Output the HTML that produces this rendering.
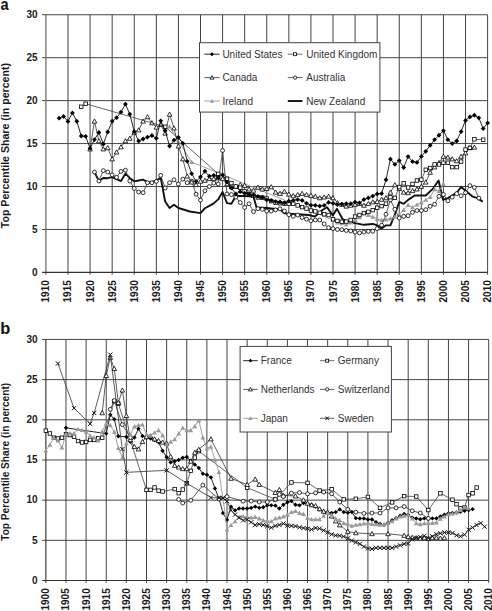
<!DOCTYPE html><html><head><meta charset="utf-8"><style>html,body{margin:0;padding:0;background:#fff}svg{display:block}</style></head><body><svg width="492" height="611" viewBox="0 0 492 611">
<rect width="492" height="611" fill="#fff"/>
<g stroke="#444" stroke-width="1.0"><line x1="67.98" y1="14.75" x2="67.98" y2="274.70"/><line x1="90.07" y1="14.75" x2="90.07" y2="274.70"/><line x1="112.16" y1="14.75" x2="112.16" y2="274.70"/><line x1="134.24" y1="14.75" x2="134.24" y2="274.70"/><line x1="156.33" y1="14.75" x2="156.33" y2="274.70"/><line x1="178.41" y1="14.75" x2="178.41" y2="274.70"/><line x1="200.50" y1="14.75" x2="200.50" y2="274.70"/><line x1="222.58" y1="14.75" x2="222.58" y2="274.70"/><line x1="244.67" y1="14.75" x2="244.67" y2="274.70"/><line x1="266.75" y1="14.75" x2="266.75" y2="274.70"/><line x1="288.84" y1="14.75" x2="288.84" y2="274.70"/><line x1="310.92" y1="14.75" x2="310.92" y2="274.70"/><line x1="333.00" y1="14.75" x2="333.00" y2="274.70"/><line x1="355.09" y1="14.75" x2="355.09" y2="274.70"/><line x1="377.17" y1="14.75" x2="377.17" y2="274.70"/><line x1="399.26" y1="14.75" x2="399.26" y2="274.70"/><line x1="421.35" y1="14.75" x2="421.35" y2="274.70"/><line x1="443.43" y1="14.75" x2="443.43" y2="274.70"/><line x1="465.52" y1="14.75" x2="465.52" y2="274.70"/><line x1="487.60" y1="14.75" x2="487.60" y2="274.70"/><line x1="42.10" y1="229.46" x2="487.60" y2="229.46"/><line x1="42.10" y1="186.52" x2="487.60" y2="186.52"/><line x1="42.10" y1="143.57" x2="487.60" y2="143.57"/><line x1="42.10" y1="100.63" x2="487.60" y2="100.63"/><line x1="42.10" y1="57.69" x2="487.60" y2="57.69"/><line x1="42.10" y1="14.75" x2="487.60" y2="14.75"/></g>
<g stroke-width="1.2"><line stroke="#666" x1="45.90" y1="14.75" x2="45.90" y2="274.70"/><line stroke="#333" x1="42.10" y1="272.40" x2="487.60" y2="272.40"/></g>
<g font-family="Liberation Sans, sans-serif" font-weight="bold" font-size="10.0" fill="#1a1a1a"><text x="37.60" y="275.70" text-anchor="end">0</text><text x="37.60" y="232.76" text-anchor="end">5</text><text x="37.60" y="189.82" text-anchor="end">10</text><text x="37.60" y="146.88" text-anchor="end">15</text><text x="37.60" y="103.93" text-anchor="end">20</text><text x="37.60" y="60.99" text-anchor="end">25</text><text x="37.60" y="18.05" text-anchor="end">30</text></g>
<g font-family="Liberation Sans, sans-serif" font-weight="bold" font-size="10.0" fill="#1a1a1a"><text transform="translate(49.40,280.20) rotate(-90)" text-anchor="end">1910</text><text transform="translate(71.48,280.20) rotate(-90)" text-anchor="end">1915</text><text transform="translate(93.57,280.20) rotate(-90)" text-anchor="end">1920</text><text transform="translate(115.66,280.20) rotate(-90)" text-anchor="end">1925</text><text transform="translate(137.74,280.20) rotate(-90)" text-anchor="end">1930</text><text transform="translate(159.83,280.20) rotate(-90)" text-anchor="end">1935</text><text transform="translate(181.91,280.20) rotate(-90)" text-anchor="end">1940</text><text transform="translate(204.00,280.20) rotate(-90)" text-anchor="end">1945</text><text transform="translate(226.08,280.20) rotate(-90)" text-anchor="end">1950</text><text transform="translate(248.17,280.20) rotate(-90)" text-anchor="end">1955</text><text transform="translate(270.25,280.20) rotate(-90)" text-anchor="end">1960</text><text transform="translate(292.34,280.20) rotate(-90)" text-anchor="end">1965</text><text transform="translate(314.42,280.20) rotate(-90)" text-anchor="end">1970</text><text transform="translate(336.50,280.20) rotate(-90)" text-anchor="end">1975</text><text transform="translate(358.59,280.20) rotate(-90)" text-anchor="end">1980</text><text transform="translate(380.67,280.20) rotate(-90)" text-anchor="end">1985</text><text transform="translate(402.76,280.20) rotate(-90)" text-anchor="end">1990</text><text transform="translate(424.85,280.20) rotate(-90)" text-anchor="end">1995</text><text transform="translate(446.93,280.20) rotate(-90)" text-anchor="end">2000</text><text transform="translate(469.02,280.20) rotate(-90)" text-anchor="end">2005</text><text transform="translate(491.10,280.20) rotate(-90)" text-anchor="end">2010</text></g>
<text transform="translate(8.90,145.60) rotate(-90)" text-anchor="middle" font-family="Liberation Sans, sans-serif" font-weight="bold" font-size="10.6" fill="#1a1a1a">Top Percentile Share (in percent)</text>
<text transform="translate(0.6,9.6) scale(0.9,1)" font-family="Liberation Sans, sans-serif" font-weight="bold" font-size="16.2" fill="#111">a</text>
<path d="M94.49 172.09 L98.90 181.02 L103.32 177.93 L107.74 178.19 L112.16 177.07 L116.57 179.22 L120.99 181.02 L125.41 173.63 L129.82 177.93 L134.24 181.36 L138.66 180.50 L143.07 179.65 L147.49 182.22 L151.91 182.22 L156.33 180.50 L160.74 177.93 L165.16 201.46 L169.58 207.99 L173.99 204.72 L178.41 207.99 L189.89 211.51 L200.50 213.14 L204.91 208.25 L209.33 205.84 L213.75 203.35 L218.16 199.40 L222.58 192.01 L227.00 203.18 L231.41 203.78 L235.83 195.96 L240.25 195.96 L244.67 195.96 L249.08 196.39 L253.50 196.82 L256.59 207.47 L266.75 208.07 L280.00 209.36 L284.42 213.40 L297.67 214.26 L308.71 215.03 L314.90 216.58 L322.85 209.71 L327.04 207.21 L332.78 215.37 L336.98 208.85 L342.50 218.98 L346.26 220.87 L355.09 223.19 L363.92 224.82 L372.76 223.96 L377.17 225.34 L381.59 228.60 L386.01 225.34 L390.43 225.34 L394.84 214.69 L399.26 201.98 L403.68 203.87 L408.09 199.83 L414.72 195.53 L425.76 195.45 L433.27 188.32 L438.57 180.42 L442.99 199.83 L447.85 198.11 L456.68 192.79 L461.10 186.95 L465.96 190.98 L472.14 196.31 L477.44 198.11 L482.74 201.63" fill="none" stroke="#111" stroke-width="1.9" stroke-linejoin="round"/>
<path d="M169.58 126.66 L191.66 162.04 L333.00 220.01 L337.42 222.59 L341.84 223.45 L346.26 224.31 L350.67 222.59 L355.09 220.01 L359.51 217.43 L363.92 213.14 L368.34 215.03 L372.76 216.83 L377.17 218.98 L381.59 220.01 L386.01 219.50 L390.43 218.47 L394.84 216.83 L399.26 214.69 L403.68 209.96 L408.09 205.15 L412.51 207.30 L416.93 204.55 L421.35 202.49 L425.76 199.83 L430.18 197.17 L434.60 189.26 L439.01 190.98 L443.43 183.94" fill="none" stroke="#999" stroke-width="0.9" stroke-linejoin="round"/><path d="M169.58 124.26L171.98 128.58L167.18 128.58Z" fill="#999" stroke="none"/><path d="M191.66 159.64L194.06 163.96L189.26 163.96Z" fill="#999" stroke="none"/><path d="M333.00 217.61L335.40 221.93L330.61 221.93Z" fill="#999" stroke="none"/><path d="M337.42 220.19L339.82 224.51L335.02 224.51Z" fill="#999" stroke="none"/><path d="M341.84 221.05L344.24 225.37L339.44 225.37Z" fill="#999" stroke="none"/><path d="M346.26 221.91L348.66 226.23L343.86 226.23Z" fill="#999" stroke="none"/><path d="M350.67 220.19L353.07 224.51L348.27 224.51Z" fill="#999" stroke="none"/><path d="M355.09 217.61L357.49 221.93L352.69 221.93Z" fill="#999" stroke="none"/><path d="M359.51 215.03L361.91 219.35L357.11 219.35Z" fill="#999" stroke="none"/><path d="M363.92 210.74L366.32 215.06L361.52 215.06Z" fill="#999" stroke="none"/><path d="M368.34 212.63L370.74 216.95L365.94 216.95Z" fill="#999" stroke="none"/><path d="M372.76 214.43L375.16 218.75L370.36 218.75Z" fill="#999" stroke="none"/><path d="M377.17 216.58L379.57 220.90L374.77 220.90Z" fill="#999" stroke="none"/><path d="M381.59 217.61L383.99 221.93L379.19 221.93Z" fill="#999" stroke="none"/><path d="M386.01 217.10L388.41 221.42L383.61 221.42Z" fill="#999" stroke="none"/><path d="M390.43 216.07L392.83 220.39L388.03 220.39Z" fill="#999" stroke="none"/><path d="M394.84 214.43L397.24 218.75L392.44 218.75Z" fill="#999" stroke="none"/><path d="M399.26 212.29L401.66 216.61L396.86 216.61Z" fill="#999" stroke="none"/><path d="M403.68 207.56L406.08 211.88L401.28 211.88Z" fill="#999" stroke="none"/><path d="M408.09 202.75L410.49 207.07L405.69 207.07Z" fill="#999" stroke="none"/><path d="M412.51 204.90L414.91 209.22L410.11 209.22Z" fill="#999" stroke="none"/><path d="M416.93 202.15L419.33 206.47L414.53 206.47Z" fill="#999" stroke="none"/><path d="M421.35 200.09L423.75 204.41L418.95 204.41Z" fill="#999" stroke="none"/><path d="M425.76 197.43L428.16 201.75L423.36 201.75Z" fill="#999" stroke="none"/><path d="M430.18 194.77L432.58 199.09L427.78 199.09Z" fill="#999" stroke="none"/><path d="M434.60 186.86L437.00 191.18L432.20 191.18Z" fill="#999" stroke="none"/><path d="M439.01 188.58L441.41 192.90L436.61 192.90Z" fill="#999" stroke="none"/><path d="M443.43 181.54L445.83 185.86L441.03 185.86Z" fill="#999" stroke="none"/>
<path d="M94.49 172.09 L98.90 181.02 L103.32 170.63 L107.74 172.09 L112.16 174.92 L116.57 177.33 L120.99 171.40 L125.41 170.20 L129.82 181.02 L134.24 188.41 L138.66 192.01 L143.07 192.70 L147.49 182.74 L151.91 182.74 L156.33 181.36 L160.74 175.44 L165.16 187.98 L169.58 182.74 L173.99 179.82 L178.41 184.03 L182.83 179.13 L187.24 182.74 L191.66 181.11 L196.08 194.16 L200.50 200.09 L204.91 190.81 L209.33 186.52 L213.75 183.08 L218.16 183.94 L222.58 150.53 L227.00 193.99 L231.41 194.59 L235.83 197.08 L240.25 202.58 L244.67 207.47 L249.08 203.78 L253.50 211.68 L257.92 208.67 L262.33 209.28 L266.75 211.08 L271.17 211.08 L275.58 209.88 L280.00 208.85 L284.42 210.99 L288.84 214.69 L293.25 216.32 L297.67 215.03 L302.09 217.52 L306.50 219.15 L310.92 220.78 L315.34 220.01 L319.75 220.01 L324.17 223.96 L328.59 227.74 L333.00 228.60 L337.42 229.46 L341.84 229.72 L346.26 230.49 L350.67 231.00 L355.09 232.12 L359.51 232.89 L363.92 232.12 L368.34 231.35 L372.76 231.18 L377.17 228.60 L381.59 225.16 L386.01 214.26 L390.43 199.91 L394.84 209.28 L399.26 217.95 L403.68 216.32 L408.09 215.72 L412.51 212.28 L416.93 210.56 L421.35 210.56 L425.76 209.71 L430.18 206.27 L434.60 204.29 L439.01 196.31 L443.43 194.50 L447.85 200.77 L452.26 197.17 L456.68 193.64 L461.10 195.79 L465.52 192.79 L469.93 185.66 L474.35 187.46 L478.77 198.11" fill="none" stroke="#333" stroke-width="0.8" stroke-linejoin="round"/><circle cx="94.49" cy="172.09" r="1.95" fill="#fff" stroke="#000" stroke-width="0.8"/><circle cx="98.90" cy="181.02" r="1.95" fill="#fff" stroke="#000" stroke-width="0.8"/><circle cx="103.32" cy="170.63" r="1.95" fill="#fff" stroke="#000" stroke-width="0.8"/><circle cx="107.74" cy="172.09" r="1.95" fill="#fff" stroke="#000" stroke-width="0.8"/><circle cx="112.16" cy="174.92" r="1.95" fill="#fff" stroke="#000" stroke-width="0.8"/><circle cx="116.57" cy="177.33" r="1.95" fill="#fff" stroke="#000" stroke-width="0.8"/><circle cx="120.99" cy="171.40" r="1.95" fill="#fff" stroke="#000" stroke-width="0.8"/><circle cx="125.41" cy="170.20" r="1.95" fill="#fff" stroke="#000" stroke-width="0.8"/><circle cx="129.82" cy="181.02" r="1.95" fill="#fff" stroke="#000" stroke-width="0.8"/><circle cx="134.24" cy="188.41" r="1.95" fill="#fff" stroke="#000" stroke-width="0.8"/><circle cx="138.66" cy="192.01" r="1.95" fill="#fff" stroke="#000" stroke-width="0.8"/><circle cx="143.07" cy="192.70" r="1.95" fill="#fff" stroke="#000" stroke-width="0.8"/><circle cx="147.49" cy="182.74" r="1.95" fill="#fff" stroke="#000" stroke-width="0.8"/><circle cx="151.91" cy="182.74" r="1.95" fill="#fff" stroke="#000" stroke-width="0.8"/><circle cx="156.33" cy="181.36" r="1.95" fill="#fff" stroke="#000" stroke-width="0.8"/><circle cx="160.74" cy="175.44" r="1.95" fill="#fff" stroke="#000" stroke-width="0.8"/><circle cx="165.16" cy="187.98" r="1.95" fill="#fff" stroke="#000" stroke-width="0.8"/><circle cx="169.58" cy="182.74" r="1.95" fill="#fff" stroke="#000" stroke-width="0.8"/><circle cx="173.99" cy="179.82" r="1.95" fill="#fff" stroke="#000" stroke-width="0.8"/><circle cx="178.41" cy="184.03" r="1.95" fill="#fff" stroke="#000" stroke-width="0.8"/><circle cx="182.83" cy="179.13" r="1.95" fill="#fff" stroke="#000" stroke-width="0.8"/><circle cx="187.24" cy="182.74" r="1.95" fill="#fff" stroke="#000" stroke-width="0.8"/><circle cx="191.66" cy="181.11" r="1.95" fill="#fff" stroke="#000" stroke-width="0.8"/><circle cx="196.08" cy="194.16" r="1.95" fill="#fff" stroke="#000" stroke-width="0.8"/><circle cx="200.50" cy="200.09" r="1.95" fill="#fff" stroke="#000" stroke-width="0.8"/><circle cx="204.91" cy="190.81" r="1.95" fill="#fff" stroke="#000" stroke-width="0.8"/><circle cx="209.33" cy="186.52" r="1.95" fill="#fff" stroke="#000" stroke-width="0.8"/><circle cx="213.75" cy="183.08" r="1.95" fill="#fff" stroke="#000" stroke-width="0.8"/><circle cx="218.16" cy="183.94" r="1.95" fill="#fff" stroke="#000" stroke-width="0.8"/><circle cx="222.58" cy="150.53" r="1.95" fill="#fff" stroke="#000" stroke-width="0.8"/><circle cx="227.00" cy="193.99" r="1.95" fill="#fff" stroke="#000" stroke-width="0.8"/><circle cx="231.41" cy="194.59" r="1.95" fill="#fff" stroke="#000" stroke-width="0.8"/><circle cx="235.83" cy="197.08" r="1.95" fill="#fff" stroke="#000" stroke-width="0.8"/><circle cx="240.25" cy="202.58" r="1.95" fill="#fff" stroke="#000" stroke-width="0.8"/><circle cx="244.67" cy="207.47" r="1.95" fill="#fff" stroke="#000" stroke-width="0.8"/><circle cx="249.08" cy="203.78" r="1.95" fill="#fff" stroke="#000" stroke-width="0.8"/><circle cx="253.50" cy="211.68" r="1.95" fill="#fff" stroke="#000" stroke-width="0.8"/><circle cx="257.92" cy="208.67" r="1.95" fill="#fff" stroke="#000" stroke-width="0.8"/><circle cx="262.33" cy="209.28" r="1.95" fill="#fff" stroke="#000" stroke-width="0.8"/><circle cx="266.75" cy="211.08" r="1.95" fill="#fff" stroke="#000" stroke-width="0.8"/><circle cx="271.17" cy="211.08" r="1.95" fill="#fff" stroke="#000" stroke-width="0.8"/><circle cx="275.58" cy="209.88" r="1.95" fill="#fff" stroke="#000" stroke-width="0.8"/><circle cx="280.00" cy="208.85" r="1.95" fill="#fff" stroke="#000" stroke-width="0.8"/><circle cx="284.42" cy="210.99" r="1.95" fill="#fff" stroke="#000" stroke-width="0.8"/><circle cx="288.84" cy="214.69" r="1.95" fill="#fff" stroke="#000" stroke-width="0.8"/><circle cx="293.25" cy="216.32" r="1.95" fill="#fff" stroke="#000" stroke-width="0.8"/><circle cx="297.67" cy="215.03" r="1.95" fill="#fff" stroke="#000" stroke-width="0.8"/><circle cx="302.09" cy="217.52" r="1.95" fill="#fff" stroke="#000" stroke-width="0.8"/><circle cx="306.50" cy="219.15" r="1.95" fill="#fff" stroke="#000" stroke-width="0.8"/><circle cx="310.92" cy="220.78" r="1.95" fill="#fff" stroke="#000" stroke-width="0.8"/><circle cx="315.34" cy="220.01" r="1.95" fill="#fff" stroke="#000" stroke-width="0.8"/><circle cx="319.75" cy="220.01" r="1.95" fill="#fff" stroke="#000" stroke-width="0.8"/><circle cx="324.17" cy="223.96" r="1.95" fill="#fff" stroke="#000" stroke-width="0.8"/><circle cx="328.59" cy="227.74" r="1.95" fill="#fff" stroke="#000" stroke-width="0.8"/><circle cx="333.00" cy="228.60" r="1.95" fill="#fff" stroke="#000" stroke-width="0.8"/><circle cx="337.42" cy="229.46" r="1.95" fill="#fff" stroke="#000" stroke-width="0.8"/><circle cx="341.84" cy="229.72" r="1.95" fill="#fff" stroke="#000" stroke-width="0.8"/><circle cx="346.26" cy="230.49" r="1.95" fill="#fff" stroke="#000" stroke-width="0.8"/><circle cx="350.67" cy="231.00" r="1.95" fill="#fff" stroke="#000" stroke-width="0.8"/><circle cx="355.09" cy="232.12" r="1.95" fill="#fff" stroke="#000" stroke-width="0.8"/><circle cx="359.51" cy="232.89" r="1.95" fill="#fff" stroke="#000" stroke-width="0.8"/><circle cx="363.92" cy="232.12" r="1.95" fill="#fff" stroke="#000" stroke-width="0.8"/><circle cx="368.34" cy="231.35" r="1.95" fill="#fff" stroke="#000" stroke-width="0.8"/><circle cx="372.76" cy="231.18" r="1.95" fill="#fff" stroke="#000" stroke-width="0.8"/><circle cx="377.17" cy="228.60" r="1.95" fill="#fff" stroke="#000" stroke-width="0.8"/><circle cx="381.59" cy="225.16" r="1.95" fill="#fff" stroke="#000" stroke-width="0.8"/><circle cx="386.01" cy="214.26" r="1.95" fill="#fff" stroke="#000" stroke-width="0.8"/><circle cx="390.43" cy="199.91" r="1.95" fill="#fff" stroke="#000" stroke-width="0.8"/><circle cx="394.84" cy="209.28" r="1.95" fill="#fff" stroke="#000" stroke-width="0.8"/><circle cx="399.26" cy="217.95" r="1.95" fill="#fff" stroke="#000" stroke-width="0.8"/><circle cx="403.68" cy="216.32" r="1.95" fill="#fff" stroke="#000" stroke-width="0.8"/><circle cx="408.09" cy="215.72" r="1.95" fill="#fff" stroke="#000" stroke-width="0.8"/><circle cx="412.51" cy="212.28" r="1.95" fill="#fff" stroke="#000" stroke-width="0.8"/><circle cx="416.93" cy="210.56" r="1.95" fill="#fff" stroke="#000" stroke-width="0.8"/><circle cx="421.35" cy="210.56" r="1.95" fill="#fff" stroke="#000" stroke-width="0.8"/><circle cx="425.76" cy="209.71" r="1.95" fill="#fff" stroke="#000" stroke-width="0.8"/><circle cx="430.18" cy="206.27" r="1.95" fill="#fff" stroke="#000" stroke-width="0.8"/><circle cx="434.60" cy="204.29" r="1.95" fill="#fff" stroke="#000" stroke-width="0.8"/><circle cx="439.01" cy="196.31" r="1.95" fill="#fff" stroke="#000" stroke-width="0.8"/><circle cx="443.43" cy="194.50" r="1.95" fill="#fff" stroke="#000" stroke-width="0.8"/><circle cx="447.85" cy="200.77" r="1.95" fill="#fff" stroke="#000" stroke-width="0.8"/><circle cx="452.26" cy="197.17" r="1.95" fill="#fff" stroke="#000" stroke-width="0.8"/><circle cx="456.68" cy="193.64" r="1.95" fill="#fff" stroke="#000" stroke-width="0.8"/><circle cx="461.10" cy="195.79" r="1.95" fill="#fff" stroke="#000" stroke-width="0.8"/><circle cx="465.52" cy="192.79" r="1.95" fill="#fff" stroke="#000" stroke-width="0.8"/><circle cx="469.93" cy="185.66" r="1.95" fill="#fff" stroke="#000" stroke-width="0.8"/><circle cx="474.35" cy="187.46" r="1.95" fill="#fff" stroke="#000" stroke-width="0.8"/><circle cx="478.77" cy="198.11" r="1.95" fill="#fff" stroke="#000" stroke-width="0.8"/>
<path d="M90.07 149.07 L94.49 121.25 L98.90 141.00 L103.32 149.07 L107.74 147.87 L112.16 159.03 L116.57 152.16 L120.99 147.01 L125.41 141.00 L129.82 138.42 L134.24 132.41 L138.66 130.09 L143.07 121.25 L147.49 116.95 L151.91 122.96 L156.33 127.26 L160.74 124.68 L165.16 133.27 L169.58 114.37 L173.99 128.12 L178.41 146.15 L182.83 159.03 L187.24 176.21 L191.66 182.22 L196.08 184.80 L200.50 181.36 L204.91 180.50 L209.33 178.79 L213.75 178.79 L218.16 177.93 L222.58 178.79 L227.00 183.94 L231.41 186.52 L235.83 186.52 L240.25 184.80 L244.67 185.49 L249.08 189.18 L253.50 190.38 L257.92 187.38 L262.33 189.18 L266.75 188.66 L271.17 186.95 L275.58 192.27 L280.00 193.56 L284.42 191.50 L288.84 194.25 L293.25 195.88 L297.67 194.76 L302.09 193.56 L306.50 194.76 L310.92 195.53 L315.34 196.39 L319.75 197.94 L324.17 197.17 L328.59 196.39 L333.00 197.94 L337.42 202.83 L341.84 204.55 L346.26 206.27 L350.67 205.41 L355.09 204.55 L359.51 203.69 L363.92 205.41 L368.34 203.69 L372.76 202.06 L377.17 201.55 L381.59 199.40 L386.01 197.94 L390.43 192.36 L394.84 184.88 L399.26 188.66 L403.68 192.36 L408.09 192.87 L412.51 190.81 L416.93 189.18 L421.35 186.52 L425.76 182.22 L430.18 172.43 L434.60 167.11 L439.01 162.73 L443.43 156.46 L447.85 157.32 L452.26 159.03 L456.68 160.92 L461.10 156.46 L465.52 153.02 L469.93 147.87 L474.35 147.35" fill="none" stroke="#333" stroke-width="0.8" stroke-linejoin="round"/><path d="M90.07 146.77L92.37 150.91L87.77 150.91Z" fill="#fff" stroke="#000" stroke-width="0.8"/><path d="M94.49 118.95L96.79 123.09L92.19 123.09Z" fill="#fff" stroke="#000" stroke-width="0.8"/><path d="M98.90 138.70L101.20 142.84L96.60 142.84Z" fill="#fff" stroke="#000" stroke-width="0.8"/><path d="M103.32 146.77L105.62 150.91L101.02 150.91Z" fill="#fff" stroke="#000" stroke-width="0.8"/><path d="M107.74 145.57L110.04 149.71L105.44 149.71Z" fill="#fff" stroke="#000" stroke-width="0.8"/><path d="M112.16 156.73L114.45 160.87L109.86 160.87Z" fill="#fff" stroke="#000" stroke-width="0.8"/><path d="M116.57 149.86L118.87 154.00L114.27 154.00Z" fill="#fff" stroke="#000" stroke-width="0.8"/><path d="M120.99 144.71L123.29 148.85L118.69 148.85Z" fill="#fff" stroke="#000" stroke-width="0.8"/><path d="M125.41 138.70L127.71 142.84L123.11 142.84Z" fill="#fff" stroke="#000" stroke-width="0.8"/><path d="M129.82 136.12L132.12 140.26L127.52 140.26Z" fill="#fff" stroke="#000" stroke-width="0.8"/><path d="M134.24 130.11L136.54 134.25L131.94 134.25Z" fill="#fff" stroke="#000" stroke-width="0.8"/><path d="M138.66 127.79L140.96 131.93L136.36 131.93Z" fill="#fff" stroke="#000" stroke-width="0.8"/><path d="M143.07 118.95L145.37 123.09L140.77 123.09Z" fill="#fff" stroke="#000" stroke-width="0.8"/><path d="M147.49 114.65L149.79 118.79L145.19 118.79Z" fill="#fff" stroke="#000" stroke-width="0.8"/><path d="M151.91 120.66L154.21 124.80L149.61 124.80Z" fill="#fff" stroke="#000" stroke-width="0.8"/><path d="M156.33 124.96L158.63 129.10L154.03 129.10Z" fill="#fff" stroke="#000" stroke-width="0.8"/><path d="M160.74 122.38L163.04 126.52L158.44 126.52Z" fill="#fff" stroke="#000" stroke-width="0.8"/><path d="M165.16 130.97L167.46 135.11L162.86 135.11Z" fill="#fff" stroke="#000" stroke-width="0.8"/><path d="M169.58 112.07L171.88 116.21L167.28 116.21Z" fill="#fff" stroke="#000" stroke-width="0.8"/><path d="M173.99 125.82L176.29 129.96L171.69 129.96Z" fill="#fff" stroke="#000" stroke-width="0.8"/><path d="M178.41 143.85L180.71 147.99L176.11 147.99Z" fill="#fff" stroke="#000" stroke-width="0.8"/><path d="M182.83 156.73L185.13 160.87L180.53 160.87Z" fill="#fff" stroke="#000" stroke-width="0.8"/><path d="M187.24 173.91L189.54 178.05L184.94 178.05Z" fill="#fff" stroke="#000" stroke-width="0.8"/><path d="M191.66 179.92L193.96 184.06L189.36 184.06Z" fill="#fff" stroke="#000" stroke-width="0.8"/><path d="M196.08 182.50L198.38 186.64L193.78 186.64Z" fill="#fff" stroke="#000" stroke-width="0.8"/><path d="M200.50 179.06L202.80 183.20L198.20 183.20Z" fill="#fff" stroke="#000" stroke-width="0.8"/><path d="M204.91 178.20L207.21 182.34L202.61 182.34Z" fill="#fff" stroke="#000" stroke-width="0.8"/><path d="M209.33 176.49L211.63 180.63L207.03 180.63Z" fill="#fff" stroke="#000" stroke-width="0.8"/><path d="M213.75 176.49L216.05 180.63L211.45 180.63Z" fill="#fff" stroke="#000" stroke-width="0.8"/><path d="M218.16 175.63L220.46 179.77L215.86 179.77Z" fill="#fff" stroke="#000" stroke-width="0.8"/><path d="M222.58 176.49L224.88 180.63L220.28 180.63Z" fill="#fff" stroke="#000" stroke-width="0.8"/><path d="M227.00 181.64L229.30 185.78L224.70 185.78Z" fill="#fff" stroke="#000" stroke-width="0.8"/><path d="M231.41 184.22L233.71 188.36L229.11 188.36Z" fill="#fff" stroke="#000" stroke-width="0.8"/><path d="M235.83 184.22L238.13 188.36L233.53 188.36Z" fill="#fff" stroke="#000" stroke-width="0.8"/><path d="M240.25 182.50L242.55 186.64L237.95 186.64Z" fill="#fff" stroke="#000" stroke-width="0.8"/><path d="M244.67 183.19L246.97 187.33L242.37 187.33Z" fill="#fff" stroke="#000" stroke-width="0.8"/><path d="M249.08 186.88L251.38 191.02L246.78 191.02Z" fill="#fff" stroke="#000" stroke-width="0.8"/><path d="M253.50 188.08L255.80 192.22L251.20 192.22Z" fill="#fff" stroke="#000" stroke-width="0.8"/><path d="M257.92 185.08L260.22 189.22L255.62 189.22Z" fill="#fff" stroke="#000" stroke-width="0.8"/><path d="M262.33 186.88L264.63 191.02L260.03 191.02Z" fill="#fff" stroke="#000" stroke-width="0.8"/><path d="M266.75 186.36L269.05 190.50L264.45 190.50Z" fill="#fff" stroke="#000" stroke-width="0.8"/><path d="M271.17 184.65L273.47 188.79L268.87 188.79Z" fill="#fff" stroke="#000" stroke-width="0.8"/><path d="M275.58 189.97L277.88 194.11L273.28 194.11Z" fill="#fff" stroke="#000" stroke-width="0.8"/><path d="M280.00 191.26L282.30 195.40L277.70 195.40Z" fill="#fff" stroke="#000" stroke-width="0.8"/><path d="M284.42 189.20L286.72 193.34L282.12 193.34Z" fill="#fff" stroke="#000" stroke-width="0.8"/><path d="M288.84 191.95L291.14 196.09L286.54 196.09Z" fill="#fff" stroke="#000" stroke-width="0.8"/><path d="M293.25 193.58L295.55 197.72L290.95 197.72Z" fill="#fff" stroke="#000" stroke-width="0.8"/><path d="M297.67 192.46L299.97 196.60L295.37 196.60Z" fill="#fff" stroke="#000" stroke-width="0.8"/><path d="M302.09 191.26L304.39 195.40L299.79 195.40Z" fill="#fff" stroke="#000" stroke-width="0.8"/><path d="M306.50 192.46L308.80 196.60L304.20 196.60Z" fill="#fff" stroke="#000" stroke-width="0.8"/><path d="M310.92 193.23L313.22 197.37L308.62 197.37Z" fill="#fff" stroke="#000" stroke-width="0.8"/><path d="M315.34 194.09L317.64 198.23L313.04 198.23Z" fill="#fff" stroke="#000" stroke-width="0.8"/><path d="M319.75 195.64L322.05 199.78L317.45 199.78Z" fill="#fff" stroke="#000" stroke-width="0.8"/><path d="M324.17 194.87L326.47 199.01L321.87 199.01Z" fill="#fff" stroke="#000" stroke-width="0.8"/><path d="M328.59 194.09L330.89 198.23L326.29 198.23Z" fill="#fff" stroke="#000" stroke-width="0.8"/><path d="M333.00 195.64L335.31 199.78L330.70 199.78Z" fill="#fff" stroke="#000" stroke-width="0.8"/><path d="M337.42 200.53L339.72 204.67L335.12 204.67Z" fill="#fff" stroke="#000" stroke-width="0.8"/><path d="M341.84 202.25L344.14 206.39L339.54 206.39Z" fill="#fff" stroke="#000" stroke-width="0.8"/><path d="M346.26 203.97L348.56 208.11L343.96 208.11Z" fill="#fff" stroke="#000" stroke-width="0.8"/><path d="M350.67 203.11L352.97 207.25L348.37 207.25Z" fill="#fff" stroke="#000" stroke-width="0.8"/><path d="M355.09 202.25L357.39 206.39L352.79 206.39Z" fill="#fff" stroke="#000" stroke-width="0.8"/><path d="M359.51 201.39L361.81 205.53L357.21 205.53Z" fill="#fff" stroke="#000" stroke-width="0.8"/><path d="M363.92 203.11L366.22 207.25L361.62 207.25Z" fill="#fff" stroke="#000" stroke-width="0.8"/><path d="M368.34 201.39L370.64 205.53L366.04 205.53Z" fill="#fff" stroke="#000" stroke-width="0.8"/><path d="M372.76 199.76L375.06 203.90L370.46 203.90Z" fill="#fff" stroke="#000" stroke-width="0.8"/><path d="M377.17 199.25L379.47 203.39L374.87 203.39Z" fill="#fff" stroke="#000" stroke-width="0.8"/><path d="M381.59 197.10L383.89 201.24L379.29 201.24Z" fill="#fff" stroke="#000" stroke-width="0.8"/><path d="M386.01 195.64L388.31 199.78L383.71 199.78Z" fill="#fff" stroke="#000" stroke-width="0.8"/><path d="M390.43 190.06L392.73 194.20L388.13 194.20Z" fill="#fff" stroke="#000" stroke-width="0.8"/><path d="M394.84 182.58L397.14 186.72L392.54 186.72Z" fill="#fff" stroke="#000" stroke-width="0.8"/><path d="M399.26 186.36L401.56 190.50L396.96 190.50Z" fill="#fff" stroke="#000" stroke-width="0.8"/><path d="M403.68 190.06L405.98 194.20L401.38 194.20Z" fill="#fff" stroke="#000" stroke-width="0.8"/><path d="M408.09 190.57L410.39 194.71L405.79 194.71Z" fill="#fff" stroke="#000" stroke-width="0.8"/><path d="M412.51 188.51L414.81 192.65L410.21 192.65Z" fill="#fff" stroke="#000" stroke-width="0.8"/><path d="M416.93 186.88L419.23 191.02L414.63 191.02Z" fill="#fff" stroke="#000" stroke-width="0.8"/><path d="M421.35 184.22L423.65 188.36L419.05 188.36Z" fill="#fff" stroke="#000" stroke-width="0.8"/><path d="M425.76 179.92L428.06 184.06L423.46 184.06Z" fill="#fff" stroke="#000" stroke-width="0.8"/><path d="M430.18 170.13L432.48 174.27L427.88 174.27Z" fill="#fff" stroke="#000" stroke-width="0.8"/><path d="M434.60 164.81L436.90 168.95L432.30 168.95Z" fill="#fff" stroke="#000" stroke-width="0.8"/><path d="M439.01 160.43L441.31 164.57L436.71 164.57Z" fill="#fff" stroke="#000" stroke-width="0.8"/><path d="M443.43 154.16L445.73 158.30L441.13 158.30Z" fill="#fff" stroke="#000" stroke-width="0.8"/><path d="M447.85 155.02L450.15 159.16L445.55 159.16Z" fill="#fff" stroke="#000" stroke-width="0.8"/><path d="M452.26 156.73L454.56 160.87L449.96 160.87Z" fill="#fff" stroke="#000" stroke-width="0.8"/><path d="M456.68 158.62L458.98 162.76L454.38 162.76Z" fill="#fff" stroke="#000" stroke-width="0.8"/><path d="M461.10 154.16L463.40 158.30L458.80 158.30Z" fill="#fff" stroke="#000" stroke-width="0.8"/><path d="M465.52 150.72L467.82 154.86L463.22 154.86Z" fill="#fff" stroke="#000" stroke-width="0.8"/><path d="M469.93 145.57L472.23 149.71L467.63 149.71Z" fill="#fff" stroke="#000" stroke-width="0.8"/><path d="M474.35 145.05L476.65 149.19L472.05 149.19Z" fill="#fff" stroke="#000" stroke-width="0.8"/>
<path d="M81.24 106.82 L85.65 103.73 L165.16 126.74 L218.16 173.89 L227.00 178.79 L231.41 183.08 L235.83 186.52 L240.25 187.72 L244.67 191.41 L249.08 194.16 L253.50 195.62 L257.92 197.42 L262.33 197.60 L266.75 198.54 L271.17 201.12 L275.58 202.83 L280.00 203.26 L284.42 203.69 L288.84 203.69 L293.25 203.69 L297.67 205.41 L302.09 207.13 L306.50 208.59 L310.92 210.56 L315.34 211.42 L319.75 212.71 L324.17 214.26 L328.59 215.03 L333.00 219.15 L337.42 220.87 L341.84 221.73 L346.26 221.56 L350.67 220.01 L355.09 216.58 L359.51 215.03 L363.92 213.14 L368.34 211.85 L372.76 210.13 L377.17 207.73 L381.59 206.10 L386.01 203.69 L390.43 197.17 L394.84 197.85 L399.26 187.03 L403.68 183.34 L408.09 187.55 L412.51 183.94 L416.93 180.50 L421.35 179.65 L425.76 169.77 L430.18 168.05 L434.60 164.44 L439.01 164.44 L443.43 162.73 L447.85 162.73 L452.26 167.11 L456.68 167.11 L461.10 161.61 L465.52 149.59 L469.93 147.87 L474.35 139.28 L483.18 139.71" fill="none" stroke="#444" stroke-width="0.8" stroke-linejoin="round"/><rect x="79.49" y="105.07" width="3.50" height="3.50" fill="#fff" stroke="#000" stroke-width="0.8"/><rect x="83.90" y="101.98" width="3.50" height="3.50" fill="#fff" stroke="#000" stroke-width="0.8"/><rect x="163.41" y="124.99" width="3.50" height="3.50" fill="#fff" stroke="#000" stroke-width="0.8"/><rect x="216.41" y="172.14" width="3.50" height="3.50" fill="#fff" stroke="#000" stroke-width="0.8"/><rect x="225.25" y="177.04" width="3.50" height="3.50" fill="#fff" stroke="#000" stroke-width="0.8"/><rect x="229.66" y="181.33" width="3.50" height="3.50" fill="#fff" stroke="#000" stroke-width="0.8"/><rect x="234.08" y="184.77" width="3.50" height="3.50" fill="#fff" stroke="#000" stroke-width="0.8"/><rect x="238.50" y="185.97" width="3.50" height="3.50" fill="#fff" stroke="#000" stroke-width="0.8"/><rect x="242.92" y="189.66" width="3.50" height="3.50" fill="#fff" stroke="#000" stroke-width="0.8"/><rect x="247.33" y="192.41" width="3.50" height="3.50" fill="#fff" stroke="#000" stroke-width="0.8"/><rect x="251.75" y="193.87" width="3.50" height="3.50" fill="#fff" stroke="#000" stroke-width="0.8"/><rect x="256.17" y="195.67" width="3.50" height="3.50" fill="#fff" stroke="#000" stroke-width="0.8"/><rect x="260.58" y="195.85" width="3.50" height="3.50" fill="#fff" stroke="#000" stroke-width="0.8"/><rect x="265.00" y="196.79" width="3.50" height="3.50" fill="#fff" stroke="#000" stroke-width="0.8"/><rect x="269.42" y="199.37" width="3.50" height="3.50" fill="#fff" stroke="#000" stroke-width="0.8"/><rect x="273.83" y="201.08" width="3.50" height="3.50" fill="#fff" stroke="#000" stroke-width="0.8"/><rect x="278.25" y="201.51" width="3.50" height="3.50" fill="#fff" stroke="#000" stroke-width="0.8"/><rect x="282.67" y="201.94" width="3.50" height="3.50" fill="#fff" stroke="#000" stroke-width="0.8"/><rect x="287.09" y="201.94" width="3.50" height="3.50" fill="#fff" stroke="#000" stroke-width="0.8"/><rect x="291.50" y="201.94" width="3.50" height="3.50" fill="#fff" stroke="#000" stroke-width="0.8"/><rect x="295.92" y="203.66" width="3.50" height="3.50" fill="#fff" stroke="#000" stroke-width="0.8"/><rect x="300.34" y="205.38" width="3.50" height="3.50" fill="#fff" stroke="#000" stroke-width="0.8"/><rect x="304.75" y="206.84" width="3.50" height="3.50" fill="#fff" stroke="#000" stroke-width="0.8"/><rect x="309.17" y="208.81" width="3.50" height="3.50" fill="#fff" stroke="#000" stroke-width="0.8"/><rect x="313.59" y="209.67" width="3.50" height="3.50" fill="#fff" stroke="#000" stroke-width="0.8"/><rect x="318.00" y="210.96" width="3.50" height="3.50" fill="#fff" stroke="#000" stroke-width="0.8"/><rect x="322.42" y="212.51" width="3.50" height="3.50" fill="#fff" stroke="#000" stroke-width="0.8"/><rect x="326.84" y="213.28" width="3.50" height="3.50" fill="#fff" stroke="#000" stroke-width="0.8"/><rect x="331.25" y="217.40" width="3.50" height="3.50" fill="#fff" stroke="#000" stroke-width="0.8"/><rect x="335.67" y="219.12" width="3.50" height="3.50" fill="#fff" stroke="#000" stroke-width="0.8"/><rect x="340.09" y="219.98" width="3.50" height="3.50" fill="#fff" stroke="#000" stroke-width="0.8"/><rect x="344.51" y="219.81" width="3.50" height="3.50" fill="#fff" stroke="#000" stroke-width="0.8"/><rect x="348.92" y="218.26" width="3.50" height="3.50" fill="#fff" stroke="#000" stroke-width="0.8"/><rect x="353.34" y="214.83" width="3.50" height="3.50" fill="#fff" stroke="#000" stroke-width="0.8"/><rect x="357.76" y="213.28" width="3.50" height="3.50" fill="#fff" stroke="#000" stroke-width="0.8"/><rect x="362.17" y="211.39" width="3.50" height="3.50" fill="#fff" stroke="#000" stroke-width="0.8"/><rect x="366.59" y="210.10" width="3.50" height="3.50" fill="#fff" stroke="#000" stroke-width="0.8"/><rect x="371.01" y="208.38" width="3.50" height="3.50" fill="#fff" stroke="#000" stroke-width="0.8"/><rect x="375.42" y="205.98" width="3.50" height="3.50" fill="#fff" stroke="#000" stroke-width="0.8"/><rect x="379.84" y="204.35" width="3.50" height="3.50" fill="#fff" stroke="#000" stroke-width="0.8"/><rect x="384.26" y="201.94" width="3.50" height="3.50" fill="#fff" stroke="#000" stroke-width="0.8"/><rect x="388.68" y="195.42" width="3.50" height="3.50" fill="#fff" stroke="#000" stroke-width="0.8"/><rect x="393.09" y="196.10" width="3.50" height="3.50" fill="#fff" stroke="#000" stroke-width="0.8"/><rect x="397.51" y="185.28" width="3.50" height="3.50" fill="#fff" stroke="#000" stroke-width="0.8"/><rect x="401.93" y="181.59" width="3.50" height="3.50" fill="#fff" stroke="#000" stroke-width="0.8"/><rect x="406.34" y="185.80" width="3.50" height="3.50" fill="#fff" stroke="#000" stroke-width="0.8"/><rect x="410.76" y="182.19" width="3.50" height="3.50" fill="#fff" stroke="#000" stroke-width="0.8"/><rect x="415.18" y="178.75" width="3.50" height="3.50" fill="#fff" stroke="#000" stroke-width="0.8"/><rect x="419.60" y="177.90" width="3.50" height="3.50" fill="#fff" stroke="#000" stroke-width="0.8"/><rect x="424.01" y="168.02" width="3.50" height="3.50" fill="#fff" stroke="#000" stroke-width="0.8"/><rect x="428.43" y="166.30" width="3.50" height="3.50" fill="#fff" stroke="#000" stroke-width="0.8"/><rect x="432.85" y="162.69" width="3.50" height="3.50" fill="#fff" stroke="#000" stroke-width="0.8"/><rect x="437.26" y="162.69" width="3.50" height="3.50" fill="#fff" stroke="#000" stroke-width="0.8"/><rect x="441.68" y="160.98" width="3.50" height="3.50" fill="#fff" stroke="#000" stroke-width="0.8"/><rect x="446.10" y="160.98" width="3.50" height="3.50" fill="#fff" stroke="#000" stroke-width="0.8"/><rect x="450.51" y="165.36" width="3.50" height="3.50" fill="#fff" stroke="#000" stroke-width="0.8"/><rect x="454.93" y="165.36" width="3.50" height="3.50" fill="#fff" stroke="#000" stroke-width="0.8"/><rect x="459.35" y="159.86" width="3.50" height="3.50" fill="#fff" stroke="#000" stroke-width="0.8"/><rect x="463.77" y="147.84" width="3.50" height="3.50" fill="#fff" stroke="#000" stroke-width="0.8"/><rect x="468.18" y="146.12" width="3.50" height="3.50" fill="#fff" stroke="#000" stroke-width="0.8"/><rect x="472.60" y="137.53" width="3.50" height="3.50" fill="#fff" stroke="#000" stroke-width="0.8"/><rect x="481.43" y="137.96" width="3.50" height="3.50" fill="#fff" stroke="#000" stroke-width="0.8"/>
<path d="M59.15 118.15 L63.57 116.44 L67.98 121.42 L72.40 112.91 L76.82 121.25 L81.24 136.02 L85.65 136.36 L90.07 148.21 L94.49 139.54 L98.90 132.50 L103.32 144.00 L107.74 131.98 L112.16 121.25 L116.57 117.72 L120.99 112.06 L125.41 104.07 L129.82 114.20 L134.24 131.55 L138.66 141.00 L143.07 139.02 L147.49 137.13 L151.91 135.50 L156.33 138.25 L160.74 120.82 L165.16 130.69 L169.58 146.07 L173.99 140.14 L178.41 137.31 L182.83 143.32 L187.24 161.35 L191.66 173.63 L196.08 181.45 L200.50 176.98 L204.91 171.23 L209.33 176.21 L213.75 175.35 L218.16 177.50 L222.58 174.84 L227.00 182.05 L231.41 188.06 L235.83 193.99 L240.25 191.67 L244.67 193.30 L249.08 194.59 L253.50 195.10 L257.92 196.39 L262.33 197.25 L266.75 199.83 L271.17 200.43 L275.58 201.55 L280.00 201.98 L284.42 202.83 L288.84 201.20 L293.25 200.43 L297.67 199.57 L302.09 200.43 L306.50 203.35 L310.92 205.33 L315.34 205.33 L319.75 206.10 L324.17 205.41 L328.59 202.41 L333.00 203.35 L337.42 204.55 L341.84 204.04 L346.26 203.69 L350.67 203.69 L355.09 202.06 L359.51 202.83 L363.92 199.57 L368.34 197.94 L372.76 196.05 L377.17 193.90 L381.59 193.56 L386.01 179.73 L390.43 159.03 L394.84 164.36 L399.26 160.58 L403.68 167.62 L408.09 156.54 L412.51 161.61 L416.93 162.47 L421.35 156.46 L425.76 151.30 L430.18 145.29 L434.60 139.71 L439.01 135.24 L443.43 130.69 L447.85 139.71 L452.26 143.57 L456.68 141.00 L461.10 131.55 L465.52 120.39 L469.93 116.95 L474.35 115.23 L478.77 117.81 L483.18 128.55 L487.60 122.96" fill="none" stroke="#111" stroke-width="0.9" stroke-linejoin="round"/><path d="M59.15 115.75L61.55 118.15L59.15 120.55L56.75 118.15Z" fill="#000" stroke="none"/><path d="M63.57 114.04L65.97 116.44L63.57 118.84L61.17 116.44Z" fill="#000" stroke="none"/><path d="M67.98 119.02L70.39 121.42L67.98 123.82L65.58 121.42Z" fill="#000" stroke="none"/><path d="M72.40 110.51L74.80 112.91L72.40 115.31L70.00 112.91Z" fill="#000" stroke="none"/><path d="M76.82 118.85L79.22 121.25L76.82 123.65L74.42 121.25Z" fill="#000" stroke="none"/><path d="M81.24 133.62L83.64 136.02L81.24 138.42L78.84 136.02Z" fill="#000" stroke="none"/><path d="M85.65 133.96L88.05 136.36L85.65 138.76L83.25 136.36Z" fill="#000" stroke="none"/><path d="M90.07 145.81L92.47 148.21L90.07 150.61L87.67 148.21Z" fill="#000" stroke="none"/><path d="M94.49 137.14L96.89 139.54L94.49 141.94L92.09 139.54Z" fill="#000" stroke="none"/><path d="M98.90 130.10L101.30 132.50L98.90 134.90L96.50 132.50Z" fill="#000" stroke="none"/><path d="M103.32 141.60L105.72 144.00L103.32 146.40L100.92 144.00Z" fill="#000" stroke="none"/><path d="M107.74 129.58L110.14 131.98L107.74 134.38L105.34 131.98Z" fill="#000" stroke="none"/><path d="M112.16 118.85L114.56 121.25L112.16 123.65L109.75 121.25Z" fill="#000" stroke="none"/><path d="M116.57 115.32L118.97 117.72L116.57 120.12L114.17 117.72Z" fill="#000" stroke="none"/><path d="M120.99 109.66L123.39 112.06L120.99 114.46L118.59 112.06Z" fill="#000" stroke="none"/><path d="M125.41 101.67L127.81 104.07L125.41 106.47L123.01 104.07Z" fill="#000" stroke="none"/><path d="M129.82 111.80L132.22 114.20L129.82 116.60L127.42 114.20Z" fill="#000" stroke="none"/><path d="M134.24 129.15L136.64 131.55L134.24 133.95L131.84 131.55Z" fill="#000" stroke="none"/><path d="M138.66 138.60L141.06 141.00L138.66 143.40L136.26 141.00Z" fill="#000" stroke="none"/><path d="M143.07 136.62L145.47 139.02L143.07 141.42L140.67 139.02Z" fill="#000" stroke="none"/><path d="M147.49 134.73L149.89 137.13L147.49 139.53L145.09 137.13Z" fill="#000" stroke="none"/><path d="M151.91 133.10L154.31 135.50L151.91 137.90L149.51 135.50Z" fill="#000" stroke="none"/><path d="M156.33 135.85L158.73 138.25L156.33 140.65L153.93 138.25Z" fill="#000" stroke="none"/><path d="M160.74 118.42L163.14 120.82L160.74 123.22L158.34 120.82Z" fill="#000" stroke="none"/><path d="M165.16 128.29L167.56 130.69L165.16 133.09L162.76 130.69Z" fill="#000" stroke="none"/><path d="M169.58 143.67L171.98 146.07L169.58 148.47L167.18 146.07Z" fill="#000" stroke="none"/><path d="M173.99 137.74L176.39 140.14L173.99 142.54L171.59 140.14Z" fill="#000" stroke="none"/><path d="M178.41 134.91L180.81 137.31L178.41 139.71L176.01 137.31Z" fill="#000" stroke="none"/><path d="M182.83 140.92L185.23 143.32L182.83 145.72L180.43 143.32Z" fill="#000" stroke="none"/><path d="M187.24 158.95L189.64 161.35L187.24 163.75L184.84 161.35Z" fill="#000" stroke="none"/><path d="M191.66 171.23L194.06 173.63L191.66 176.03L189.26 173.63Z" fill="#000" stroke="none"/><path d="M196.08 179.05L198.48 181.45L196.08 183.85L193.68 181.45Z" fill="#000" stroke="none"/><path d="M200.50 174.58L202.90 176.98L200.50 179.38L198.10 176.98Z" fill="#000" stroke="none"/><path d="M204.91 168.83L207.31 171.23L204.91 173.63L202.51 171.23Z" fill="#000" stroke="none"/><path d="M209.33 173.81L211.73 176.21L209.33 178.61L206.93 176.21Z" fill="#000" stroke="none"/><path d="M213.75 172.95L216.15 175.35L213.75 177.75L211.35 175.35Z" fill="#000" stroke="none"/><path d="M218.16 175.10L220.56 177.50L218.16 179.90L215.76 177.50Z" fill="#000" stroke="none"/><path d="M222.58 172.44L224.98 174.84L222.58 177.24L220.18 174.84Z" fill="#000" stroke="none"/><path d="M227.00 179.65L229.40 182.05L227.00 184.45L224.60 182.05Z" fill="#000" stroke="none"/><path d="M231.41 185.66L233.81 188.06L231.41 190.46L229.01 188.06Z" fill="#000" stroke="none"/><path d="M235.83 191.59L238.23 193.99L235.83 196.39L233.43 193.99Z" fill="#000" stroke="none"/><path d="M240.25 189.27L242.65 191.67L240.25 194.07L237.85 191.67Z" fill="#000" stroke="none"/><path d="M244.67 190.90L247.07 193.30L244.67 195.70L242.27 193.30Z" fill="#000" stroke="none"/><path d="M249.08 192.19L251.48 194.59L249.08 196.99L246.68 194.59Z" fill="#000" stroke="none"/><path d="M253.50 192.70L255.90 195.10L253.50 197.50L251.10 195.10Z" fill="#000" stroke="none"/><path d="M257.92 193.99L260.32 196.39L257.92 198.79L255.52 196.39Z" fill="#000" stroke="none"/><path d="M262.33 194.85L264.73 197.25L262.33 199.65L259.93 197.25Z" fill="#000" stroke="none"/><path d="M266.75 197.43L269.15 199.83L266.75 202.23L264.35 199.83Z" fill="#000" stroke="none"/><path d="M271.17 198.03L273.57 200.43L271.17 202.83L268.77 200.43Z" fill="#000" stroke="none"/><path d="M275.58 199.15L277.98 201.55L275.58 203.95L273.18 201.55Z" fill="#000" stroke="none"/><path d="M280.00 199.58L282.40 201.98L280.00 204.38L277.60 201.98Z" fill="#000" stroke="none"/><path d="M284.42 200.43L286.82 202.83L284.42 205.23L282.02 202.83Z" fill="#000" stroke="none"/><path d="M288.84 198.80L291.24 201.20L288.84 203.60L286.44 201.20Z" fill="#000" stroke="none"/><path d="M293.25 198.03L295.65 200.43L293.25 202.83L290.85 200.43Z" fill="#000" stroke="none"/><path d="M297.67 197.17L300.07 199.57L297.67 201.97L295.27 199.57Z" fill="#000" stroke="none"/><path d="M302.09 198.03L304.49 200.43L302.09 202.83L299.69 200.43Z" fill="#000" stroke="none"/><path d="M306.50 200.95L308.90 203.35L306.50 205.75L304.10 203.35Z" fill="#000" stroke="none"/><path d="M310.92 202.93L313.32 205.33L310.92 207.73L308.52 205.33Z" fill="#000" stroke="none"/><path d="M315.34 202.93L317.74 205.33L315.34 207.73L312.94 205.33Z" fill="#000" stroke="none"/><path d="M319.75 203.70L322.15 206.10L319.75 208.50L317.35 206.10Z" fill="#000" stroke="none"/><path d="M324.17 203.01L326.57 205.41L324.17 207.81L321.77 205.41Z" fill="#000" stroke="none"/><path d="M328.59 200.01L330.99 202.41L328.59 204.81L326.19 202.41Z" fill="#000" stroke="none"/><path d="M333.00 200.95L335.40 203.35L333.00 205.75L330.61 203.35Z" fill="#000" stroke="none"/><path d="M337.42 202.15L339.82 204.55L337.42 206.95L335.02 204.55Z" fill="#000" stroke="none"/><path d="M341.84 201.64L344.24 204.04L341.84 206.44L339.44 204.04Z" fill="#000" stroke="none"/><path d="M346.26 201.29L348.66 203.69L346.26 206.09L343.86 203.69Z" fill="#000" stroke="none"/><path d="M350.67 201.29L353.07 203.69L350.67 206.09L348.27 203.69Z" fill="#000" stroke="none"/><path d="M355.09 199.66L357.49 202.06L355.09 204.46L352.69 202.06Z" fill="#000" stroke="none"/><path d="M359.51 200.43L361.91 202.83L359.51 205.23L357.11 202.83Z" fill="#000" stroke="none"/><path d="M363.92 197.17L366.32 199.57L363.92 201.97L361.52 199.57Z" fill="#000" stroke="none"/><path d="M368.34 195.54L370.74 197.94L368.34 200.34L365.94 197.94Z" fill="#000" stroke="none"/><path d="M372.76 193.65L375.16 196.05L372.76 198.45L370.36 196.05Z" fill="#000" stroke="none"/><path d="M377.17 191.50L379.57 193.90L377.17 196.30L374.77 193.90Z" fill="#000" stroke="none"/><path d="M381.59 191.16L383.99 193.56L381.59 195.96L379.19 193.56Z" fill="#000" stroke="none"/><path d="M386.01 177.33L388.41 179.73L386.01 182.13L383.61 179.73Z" fill="#000" stroke="none"/><path d="M390.43 156.63L392.83 159.03L390.43 161.43L388.03 159.03Z" fill="#000" stroke="none"/><path d="M394.84 161.96L397.24 164.36L394.84 166.76L392.44 164.36Z" fill="#000" stroke="none"/><path d="M399.26 158.18L401.66 160.58L399.26 162.98L396.86 160.58Z" fill="#000" stroke="none"/><path d="M403.68 165.22L406.08 167.62L403.68 170.02L401.28 167.62Z" fill="#000" stroke="none"/><path d="M408.09 154.14L410.49 156.54L408.09 158.94L405.69 156.54Z" fill="#000" stroke="none"/><path d="M412.51 159.21L414.91 161.61L412.51 164.01L410.11 161.61Z" fill="#000" stroke="none"/><path d="M416.93 160.07L419.33 162.47L416.93 164.87L414.53 162.47Z" fill="#000" stroke="none"/><path d="M421.35 154.06L423.75 156.46L421.35 158.86L418.95 156.46Z" fill="#000" stroke="none"/><path d="M425.76 148.90L428.16 151.30L425.76 153.70L423.36 151.30Z" fill="#000" stroke="none"/><path d="M430.18 142.89L432.58 145.29L430.18 147.69L427.78 145.29Z" fill="#000" stroke="none"/><path d="M434.60 137.31L437.00 139.71L434.60 142.11L432.20 139.71Z" fill="#000" stroke="none"/><path d="M439.01 132.84L441.41 135.24L439.01 137.64L436.61 135.24Z" fill="#000" stroke="none"/><path d="M443.43 128.29L445.83 130.69L443.43 133.09L441.03 130.69Z" fill="#000" stroke="none"/><path d="M447.85 137.31L450.25 139.71L447.85 142.11L445.45 139.71Z" fill="#000" stroke="none"/><path d="M452.26 141.17L454.66 143.57L452.26 145.97L449.86 143.57Z" fill="#000" stroke="none"/><path d="M456.68 138.60L459.08 141.00L456.68 143.40L454.28 141.00Z" fill="#000" stroke="none"/><path d="M461.10 129.15L463.50 131.55L461.10 133.95L458.70 131.55Z" fill="#000" stroke="none"/><path d="M465.52 117.99L467.92 120.39L465.52 122.79L463.12 120.39Z" fill="#000" stroke="none"/><path d="M469.93 114.55L472.33 116.95L469.93 119.35L467.53 116.95Z" fill="#000" stroke="none"/><path d="M474.35 112.83L476.75 115.23L474.35 117.63L471.95 115.23Z" fill="#000" stroke="none"/><path d="M478.77 115.41L481.17 117.81L478.77 120.21L476.37 117.81Z" fill="#000" stroke="none"/><path d="M483.18 126.15L485.58 128.55L483.18 130.95L480.78 128.55Z" fill="#000" stroke="none"/><path d="M487.60 120.56L490.00 122.96L487.60 125.36L485.20 122.96Z" fill="#000" stroke="none"/>
<rect x="199.50" y="42.70" width="180.40" height="69.40" fill="#fff" stroke="#444" stroke-width="1"/><line x1="204.30" y1="54.20" x2="219.60" y2="54.20" stroke="#111" stroke-width="0.9"/><path d="M211.95 52.16L213.99 54.20L211.95 56.24L209.91 54.20Z" fill="#000" stroke="none"/><text x="222.40" y="57.80" font-family="Liberation Sans, sans-serif" font-size="10.0" fill="#333">United States</text><line x1="287.80" y1="54.20" x2="302.40" y2="54.20" stroke="#444" stroke-width="0.8"/><rect x="293.61" y="52.71" width="2.98" height="2.98" fill="#fff" stroke="#000" stroke-width="0.8"/><text x="306.30" y="57.80" font-family="Liberation Sans, sans-serif" font-size="10.0" fill="#333">United Kingdom</text><line x1="204.30" y1="77.60" x2="219.60" y2="77.60" stroke="#333" stroke-width="0.8"/><path d="M211.95 75.64L213.91 79.16L209.99 79.16Z" fill="#fff" stroke="#000" stroke-width="0.8"/><text x="222.40" y="81.20" font-family="Liberation Sans, sans-serif" font-size="10.0" fill="#333">Canada</text><line x1="287.80" y1="77.60" x2="302.40" y2="77.60" stroke="#333" stroke-width="0.8"/><circle cx="295.10" cy="77.60" r="1.66" fill="#fff" stroke="#000" stroke-width="0.8"/><text x="306.30" y="81.20" font-family="Liberation Sans, sans-serif" font-size="10.0" fill="#333">Australia</text><line x1="204.30" y1="101.00" x2="219.60" y2="101.00" stroke="#999" stroke-width="0.9"/><path d="M211.95 98.96L213.99 102.63L209.91 102.63Z" fill="#999" stroke="none"/><text x="222.40" y="104.60" font-family="Liberation Sans, sans-serif" font-size="10.0" fill="#333">Ireland</text><line x1="287.80" y1="101.00" x2="302.40" y2="101.00" stroke="#111" stroke-width="1.9"/><text x="306.30" y="104.60" font-family="Liberation Sans, sans-serif" font-size="10.0" fill="#333">New Zealand</text>
<g stroke="#444" stroke-width="1.0"><line x1="65.98" y1="339.45" x2="65.98" y2="582.80"/><line x1="86.11" y1="339.45" x2="86.11" y2="582.80"/><line x1="106.24" y1="339.45" x2="106.24" y2="582.80"/><line x1="126.37" y1="339.45" x2="126.37" y2="582.80"/><line x1="146.50" y1="339.45" x2="146.50" y2="582.80"/><line x1="166.63" y1="339.45" x2="166.63" y2="582.80"/><line x1="186.76" y1="339.45" x2="186.76" y2="582.80"/><line x1="206.89" y1="339.45" x2="206.89" y2="582.80"/><line x1="227.02" y1="339.45" x2="227.02" y2="582.80"/><line x1="247.15" y1="339.45" x2="247.15" y2="582.80"/><line x1="267.27" y1="339.45" x2="267.27" y2="582.80"/><line x1="287.40" y1="339.45" x2="287.40" y2="582.80"/><line x1="307.53" y1="339.45" x2="307.53" y2="582.80"/><line x1="327.66" y1="339.45" x2="327.66" y2="582.80"/><line x1="347.79" y1="339.45" x2="347.79" y2="582.80"/><line x1="367.92" y1="339.45" x2="367.92" y2="582.80"/><line x1="388.05" y1="339.45" x2="388.05" y2="582.80"/><line x1="408.18" y1="339.45" x2="408.18" y2="582.80"/><line x1="428.31" y1="339.45" x2="428.31" y2="582.80"/><line x1="448.44" y1="339.45" x2="448.44" y2="582.80"/><line x1="468.57" y1="339.45" x2="468.57" y2="582.80"/><line x1="488.70" y1="339.45" x2="488.70" y2="582.80"/><line x1="42.05" y1="540.33" x2="488.70" y2="540.33"/><line x1="42.05" y1="500.15" x2="488.70" y2="500.15"/><line x1="42.05" y1="459.98" x2="488.70" y2="459.98"/><line x1="42.05" y1="419.80" x2="488.70" y2="419.80"/><line x1="42.05" y1="379.62" x2="488.70" y2="379.62"/><line x1="42.05" y1="339.45" x2="488.70" y2="339.45"/></g>
<g stroke-width="1.2"><line stroke="#3a3a3a" x1="45.85" y1="339.45" x2="45.85" y2="582.80"/><line stroke="#333" x1="42.05" y1="580.50" x2="488.70" y2="580.50"/></g>
<g font-family="Liberation Sans, sans-serif" font-weight="bold" font-size="10.0" fill="#1a1a1a"><text x="37.55" y="583.80" text-anchor="end">0</text><text x="37.55" y="543.62" text-anchor="end">5</text><text x="37.55" y="503.45" text-anchor="end">10</text><text x="37.55" y="463.28" text-anchor="end">15</text><text x="37.55" y="423.10" text-anchor="end">20</text><text x="37.55" y="382.93" text-anchor="end">25</text><text x="37.55" y="342.75" text-anchor="end">30</text></g>
<g font-family="Liberation Sans, sans-serif" font-weight="bold" font-size="10.0" fill="#1a1a1a"><text transform="translate(49.35,588.30) rotate(-90)" text-anchor="end">1900</text><text transform="translate(69.48,588.30) rotate(-90)" text-anchor="end">1905</text><text transform="translate(89.61,588.30) rotate(-90)" text-anchor="end">1910</text><text transform="translate(109.74,588.30) rotate(-90)" text-anchor="end">1915</text><text transform="translate(129.87,588.30) rotate(-90)" text-anchor="end">1920</text><text transform="translate(150.00,588.30) rotate(-90)" text-anchor="end">1925</text><text transform="translate(170.13,588.30) rotate(-90)" text-anchor="end">1930</text><text transform="translate(190.26,588.30) rotate(-90)" text-anchor="end">1935</text><text transform="translate(210.39,588.30) rotate(-90)" text-anchor="end">1940</text><text transform="translate(230.52,588.30) rotate(-90)" text-anchor="end">1945</text><text transform="translate(250.65,588.30) rotate(-90)" text-anchor="end">1950</text><text transform="translate(270.77,588.30) rotate(-90)" text-anchor="end">1955</text><text transform="translate(290.90,588.30) rotate(-90)" text-anchor="end">1960</text><text transform="translate(311.03,588.30) rotate(-90)" text-anchor="end">1965</text><text transform="translate(331.16,588.30) rotate(-90)" text-anchor="end">1970</text><text transform="translate(351.29,588.30) rotate(-90)" text-anchor="end">1975</text><text transform="translate(371.42,588.30) rotate(-90)" text-anchor="end">1980</text><text transform="translate(391.55,588.30) rotate(-90)" text-anchor="end">1985</text><text transform="translate(411.68,588.30) rotate(-90)" text-anchor="end">1990</text><text transform="translate(431.81,588.30) rotate(-90)" text-anchor="end">1995</text><text transform="translate(451.94,588.30) rotate(-90)" text-anchor="end">2000</text><text transform="translate(472.07,588.30) rotate(-90)" text-anchor="end">2005</text><text transform="translate(492.20,588.30) rotate(-90)" text-anchor="end">2010</text></g>
<text transform="translate(8.70,461.80) rotate(-90)" text-anchor="middle" font-family="Liberation Sans, sans-serif" font-weight="bold" font-size="10.15" fill="#1a1a1a">Top Percentile Share (in percent)</text>
<text transform="translate(0.3,333.9) scale(1.0,1)" font-family="Liberation Sans, sans-serif" font-weight="bold" font-size="16.4" fill="#111">b</text>
<path d="M65.98 427.84 L106.24 433.62 L110.26 414.74 L114.29 419.16 L118.32 436.27 L126.37 436.83 L130.39 441.74 L134.42 437.48 L138.45 428.64 L142.47 436.03 L146.50 437.72 L150.52 438.52 L154.55 440.13 L158.58 442.30 L162.60 450.73 L166.63 457.32 L170.65 462.39 L174.68 461.18 L178.70 459.98 L182.73 457.73 L186.76 457.00 L190.78 460.78 L194.81 464.64 L198.83 468.01 L202.86 473.80 L206.89 474.68 L210.91 477.41 L214.94 488.42 L218.96 498.54 L222.99 513.09 L227.02 519.84 L231.04 506.74 L235.07 510.35 L239.09 508.51 L243.12 508.51 L247.15 508.51 L251.17 507.86 L255.20 506.58 L259.22 507.86 L263.25 507.22 L267.27 505.37 L271.30 505.37 L275.33 505.61 L279.35 508.43 L283.38 504.81 L287.40 502.32 L291.43 501.11 L295.46 504.81 L299.48 505.37 L303.51 502.96 L307.53 503.85 L311.56 504.81 L315.59 506.58 L319.61 509.39 L323.64 512.12 L327.66 512.68 L331.69 513.01 L335.72 512.12 L339.74 509.39 L343.77 512.12 L347.79 512.68 L351.82 512.12 L355.84 518.15 L359.87 518.47 L363.90 518.47 L367.92 519.43 L371.95 519.43 L375.97 522.17 L380.00 524.01 L384.03 524.90 L388.05 523.05 L392.08 520.32 L396.10 518.15 L400.13 515.74 L404.16 513.97 L408.18 514.85 L412.21 517.59 L416.23 518.47 L420.26 519.19 L424.29 518.39 L428.31 518.71 L432.34 518.39 L436.36 518.39 L440.39 516.38 L444.41 514.69 L448.44 513.33 L452.47 513.01 L456.49 512.52 L460.52 511.72 L464.54 510.84 L468.57 510.03 L472.60 509.15" fill="none" stroke="#111" stroke-width="0.9" stroke-linejoin="round"/><path d="M65.98 425.64L68.18 427.84L65.98 430.04L63.78 427.84Z" fill="#000" stroke="none"/><path d="M106.24 431.42L108.44 433.62L106.24 435.82L104.04 433.62Z" fill="#000" stroke="none"/><path d="M110.26 412.54L112.46 414.74L110.26 416.94L108.06 414.74Z" fill="#000" stroke="none"/><path d="M114.29 416.96L116.49 419.16L114.29 421.36L112.09 419.16Z" fill="#000" stroke="none"/><path d="M118.32 434.07L120.52 436.27L118.32 438.47L116.12 436.27Z" fill="#000" stroke="none"/><path d="M126.37 434.63L128.57 436.83L126.37 439.03L124.17 436.83Z" fill="#000" stroke="none"/><path d="M130.39 439.54L132.59 441.74L130.39 443.94L128.19 441.74Z" fill="#000" stroke="none"/><path d="M134.42 435.28L136.62 437.48L134.42 439.68L132.22 437.48Z" fill="#000" stroke="none"/><path d="M138.45 426.44L140.65 428.64L138.45 430.84L136.25 428.64Z" fill="#000" stroke="none"/><path d="M142.47 433.83L144.67 436.03L142.47 438.23L140.27 436.03Z" fill="#000" stroke="none"/><path d="M146.50 435.52L148.70 437.72L146.50 439.92L144.30 437.72Z" fill="#000" stroke="none"/><path d="M150.52 436.32L152.72 438.52L150.52 440.72L148.32 438.52Z" fill="#000" stroke="none"/><path d="M154.55 437.93L156.75 440.13L154.55 442.33L152.35 440.13Z" fill="#000" stroke="none"/><path d="M158.58 440.10L160.78 442.30L158.58 444.50L156.38 442.30Z" fill="#000" stroke="none"/><path d="M162.60 448.53L164.80 450.73L162.60 452.93L160.40 450.73Z" fill="#000" stroke="none"/><path d="M166.63 455.12L168.83 457.32L166.63 459.52L164.43 457.32Z" fill="#000" stroke="none"/><path d="M170.65 460.19L172.85 462.39L170.65 464.59L168.45 462.39Z" fill="#000" stroke="none"/><path d="M174.68 458.98L176.88 461.18L174.68 463.38L172.48 461.18Z" fill="#000" stroke="none"/><path d="M178.70 457.78L180.90 459.98L178.70 462.18L176.50 459.98Z" fill="#000" stroke="none"/><path d="M182.73 455.53L184.93 457.73L182.73 459.93L180.53 457.73Z" fill="#000" stroke="none"/><path d="M186.76 454.80L188.96 457.00L186.76 459.20L184.56 457.00Z" fill="#000" stroke="none"/><path d="M190.78 458.58L192.98 460.78L190.78 462.98L188.58 460.78Z" fill="#000" stroke="none"/><path d="M194.81 462.44L197.01 464.64L194.81 466.84L192.61 464.64Z" fill="#000" stroke="none"/><path d="M198.83 465.81L201.03 468.01L198.83 470.21L196.63 468.01Z" fill="#000" stroke="none"/><path d="M202.86 471.60L205.06 473.80L202.86 476.00L200.66 473.80Z" fill="#000" stroke="none"/><path d="M206.89 472.48L209.09 474.68L206.89 476.88L204.69 474.68Z" fill="#000" stroke="none"/><path d="M210.91 475.21L213.11 477.41L210.91 479.61L208.71 477.41Z" fill="#000" stroke="none"/><path d="M214.94 486.22L217.14 488.42L214.94 490.62L212.74 488.42Z" fill="#000" stroke="none"/><path d="M218.96 496.34L221.16 498.54L218.96 500.74L216.76 498.54Z" fill="#000" stroke="none"/><path d="M222.99 510.89L225.19 513.09L222.99 515.29L220.79 513.09Z" fill="#000" stroke="none"/><path d="M227.02 517.64L229.22 519.84L227.02 522.04L224.82 519.84Z" fill="#000" stroke="none"/><path d="M231.04 504.54L233.24 506.74L231.04 508.94L228.84 506.74Z" fill="#000" stroke="none"/><path d="M235.07 508.15L237.27 510.35L235.07 512.55L232.87 510.35Z" fill="#000" stroke="none"/><path d="M239.09 506.31L241.29 508.51L239.09 510.71L236.89 508.51Z" fill="#000" stroke="none"/><path d="M243.12 506.31L245.32 508.51L243.12 510.71L240.92 508.51Z" fill="#000" stroke="none"/><path d="M247.15 506.31L249.35 508.51L247.15 510.71L244.95 508.51Z" fill="#000" stroke="none"/><path d="M251.17 505.66L253.37 507.86L251.17 510.06L248.97 507.86Z" fill="#000" stroke="none"/><path d="M255.20 504.38L257.40 506.58L255.20 508.78L253.00 506.58Z" fill="#000" stroke="none"/><path d="M259.22 505.66L261.42 507.86L259.22 510.06L257.02 507.86Z" fill="#000" stroke="none"/><path d="M263.25 505.02L265.45 507.22L263.25 509.42L261.05 507.22Z" fill="#000" stroke="none"/><path d="M267.27 503.17L269.47 505.37L267.27 507.57L265.07 505.37Z" fill="#000" stroke="none"/><path d="M271.30 503.17L273.50 505.37L271.30 507.57L269.10 505.37Z" fill="#000" stroke="none"/><path d="M275.33 503.41L277.53 505.61L275.33 507.81L273.13 505.61Z" fill="#000" stroke="none"/><path d="M279.35 506.23L281.55 508.43L279.35 510.63L277.15 508.43Z" fill="#000" stroke="none"/><path d="M283.38 502.61L285.58 504.81L283.38 507.01L281.18 504.81Z" fill="#000" stroke="none"/><path d="M287.40 500.12L289.60 502.32L287.40 504.52L285.20 502.32Z" fill="#000" stroke="none"/><path d="M291.43 498.91L293.63 501.11L291.43 503.31L289.23 501.11Z" fill="#000" stroke="none"/><path d="M295.46 502.61L297.66 504.81L295.46 507.01L293.26 504.81Z" fill="#000" stroke="none"/><path d="M299.48 503.17L301.68 505.37L299.48 507.57L297.28 505.37Z" fill="#000" stroke="none"/><path d="M303.51 500.76L305.71 502.96L303.51 505.16L301.31 502.96Z" fill="#000" stroke="none"/><path d="M307.53 501.65L309.73 503.85L307.53 506.05L305.33 503.85Z" fill="#000" stroke="none"/><path d="M311.56 502.61L313.76 504.81L311.56 507.01L309.36 504.81Z" fill="#000" stroke="none"/><path d="M315.59 504.38L317.79 506.58L315.59 508.78L313.39 506.58Z" fill="#000" stroke="none"/><path d="M319.61 507.19L321.81 509.39L319.61 511.59L317.41 509.39Z" fill="#000" stroke="none"/><path d="M323.64 509.92L325.84 512.12L323.64 514.32L321.44 512.12Z" fill="#000" stroke="none"/><path d="M327.66 510.48L329.86 512.68L327.66 514.88L325.46 512.68Z" fill="#000" stroke="none"/><path d="M331.69 510.81L333.89 513.01L331.69 515.21L329.49 513.01Z" fill="#000" stroke="none"/><path d="M335.72 509.92L337.92 512.12L335.72 514.32L333.52 512.12Z" fill="#000" stroke="none"/><path d="M339.74 507.19L341.94 509.39L339.74 511.59L337.54 509.39Z" fill="#000" stroke="none"/><path d="M343.77 509.92L345.97 512.12L343.77 514.32L341.57 512.12Z" fill="#000" stroke="none"/><path d="M347.79 510.48L349.99 512.68L347.79 514.88L345.59 512.68Z" fill="#000" stroke="none"/><path d="M351.82 509.92L354.02 512.12L351.82 514.32L349.62 512.12Z" fill="#000" stroke="none"/><path d="M355.84 515.95L358.04 518.15L355.84 520.35L353.64 518.15Z" fill="#000" stroke="none"/><path d="M359.87 516.27L362.07 518.47L359.87 520.67L357.67 518.47Z" fill="#000" stroke="none"/><path d="M363.90 516.27L366.10 518.47L363.90 520.67L361.70 518.47Z" fill="#000" stroke="none"/><path d="M367.92 517.23L370.12 519.43L367.92 521.63L365.72 519.43Z" fill="#000" stroke="none"/><path d="M371.95 517.23L374.15 519.43L371.95 521.63L369.75 519.43Z" fill="#000" stroke="none"/><path d="M375.97 519.97L378.17 522.17L375.97 524.37L373.77 522.17Z" fill="#000" stroke="none"/><path d="M380.00 521.81L382.20 524.01L380.00 526.21L377.80 524.01Z" fill="#000" stroke="none"/><path d="M384.03 522.70L386.23 524.90L384.03 527.10L381.83 524.90Z" fill="#000" stroke="none"/><path d="M388.05 520.85L390.25 523.05L388.05 525.25L385.85 523.05Z" fill="#000" stroke="none"/><path d="M392.08 518.12L394.28 520.32L392.08 522.52L389.88 520.32Z" fill="#000" stroke="none"/><path d="M396.10 515.95L398.30 518.15L396.10 520.35L393.90 518.15Z" fill="#000" stroke="none"/><path d="M400.13 513.54L402.33 515.74L400.13 517.94L397.93 515.74Z" fill="#000" stroke="none"/><path d="M404.16 511.77L406.36 513.97L404.16 516.17L401.96 513.97Z" fill="#000" stroke="none"/><path d="M408.18 512.65L410.38 514.85L408.18 517.05L405.98 514.85Z" fill="#000" stroke="none"/><path d="M412.21 515.39L414.41 517.59L412.21 519.79L410.01 517.59Z" fill="#000" stroke="none"/><path d="M416.23 516.27L418.43 518.47L416.23 520.67L414.03 518.47Z" fill="#000" stroke="none"/><path d="M420.26 516.99L422.46 519.19L420.26 521.39L418.06 519.19Z" fill="#000" stroke="none"/><path d="M424.29 516.19L426.49 518.39L424.29 520.59L422.09 518.39Z" fill="#000" stroke="none"/><path d="M428.31 516.51L430.51 518.71L428.31 520.91L426.11 518.71Z" fill="#000" stroke="none"/><path d="M432.34 516.19L434.54 518.39L432.34 520.59L430.14 518.39Z" fill="#000" stroke="none"/><path d="M436.36 516.19L438.56 518.39L436.36 520.59L434.16 518.39Z" fill="#000" stroke="none"/><path d="M440.39 514.18L442.59 516.38L440.39 518.58L438.19 516.38Z" fill="#000" stroke="none"/><path d="M444.41 512.49L446.61 514.69L444.41 516.89L442.21 514.69Z" fill="#000" stroke="none"/><path d="M448.44 511.13L450.64 513.33L448.44 515.53L446.24 513.33Z" fill="#000" stroke="none"/><path d="M452.47 510.81L454.67 513.01L452.47 515.21L450.27 513.01Z" fill="#000" stroke="none"/><path d="M456.49 510.32L458.69 512.52L456.49 514.72L454.29 512.52Z" fill="#000" stroke="none"/><path d="M460.52 509.52L462.72 511.72L460.52 513.92L458.32 511.72Z" fill="#000" stroke="none"/><path d="M464.54 508.64L466.74 510.84L464.54 513.04L462.34 510.84Z" fill="#000" stroke="none"/><path d="M468.57 507.83L470.77 510.03L468.57 512.23L466.37 510.03Z" fill="#000" stroke="none"/><path d="M472.60 506.95L474.80 509.15L472.60 511.35L470.40 509.15Z" fill="#000" stroke="none"/>
<path d="M45.85 430.65 L49.88 433.46 L53.90 437.72 L57.93 438.44 L61.95 437.72 L65.98 434.26 L70.01 435.07 L74.03 436.67 L78.06 441.01 L82.08 442.46 L86.11 441.98 L90.13 439.89 L94.16 439.89 L98.19 438.20 L102.21 437.72 L114.29 401.32 L118.32 403.73 L146.50 489.87 L150.52 489.87 L154.55 487.45 L158.58 490.67 L162.60 491.47 L174.68 489.06 L178.70 493.16 L182.73 489.54 L186.76 483.28 L190.78 470.82 L194.81 457.56 L198.83 451.14 L247.15 487.70 L275.33 499.35 L291.43 482.47 L307.53 482.87 L319.61 490.51 L331.69 489.22 L343.77 499.35 L355.84 498.78 L367.92 496.94 L380.00 507.86 L392.08 502.40 L404.16 496.13 L416.23 496.53 L428.31 510.03 L440.39 493.32 L452.47 499.67 L456.49 504.17 L460.52 508.35 L464.54 507.54 L468.57 495.01 L472.60 493.32 L476.62 487.54" fill="none" stroke="#444" stroke-width="0.8" stroke-linejoin="round"/><rect x="44.10" y="428.90" width="3.50" height="3.50" fill="#fff" stroke="#000" stroke-width="0.8"/><rect x="48.13" y="431.71" width="3.50" height="3.50" fill="#fff" stroke="#000" stroke-width="0.8"/><rect x="52.15" y="435.97" width="3.50" height="3.50" fill="#fff" stroke="#000" stroke-width="0.8"/><rect x="56.18" y="436.69" width="3.50" height="3.50" fill="#fff" stroke="#000" stroke-width="0.8"/><rect x="60.20" y="435.97" width="3.50" height="3.50" fill="#fff" stroke="#000" stroke-width="0.8"/><rect x="64.23" y="432.51" width="3.50" height="3.50" fill="#fff" stroke="#000" stroke-width="0.8"/><rect x="68.26" y="433.32" width="3.50" height="3.50" fill="#fff" stroke="#000" stroke-width="0.8"/><rect x="72.28" y="434.92" width="3.50" height="3.50" fill="#fff" stroke="#000" stroke-width="0.8"/><rect x="76.31" y="439.26" width="3.50" height="3.50" fill="#fff" stroke="#000" stroke-width="0.8"/><rect x="80.33" y="440.71" width="3.50" height="3.50" fill="#fff" stroke="#000" stroke-width="0.8"/><rect x="84.36" y="440.23" width="3.50" height="3.50" fill="#fff" stroke="#000" stroke-width="0.8"/><rect x="88.38" y="438.14" width="3.50" height="3.50" fill="#fff" stroke="#000" stroke-width="0.8"/><rect x="92.41" y="438.14" width="3.50" height="3.50" fill="#fff" stroke="#000" stroke-width="0.8"/><rect x="96.44" y="436.45" width="3.50" height="3.50" fill="#fff" stroke="#000" stroke-width="0.8"/><rect x="100.46" y="435.97" width="3.50" height="3.50" fill="#fff" stroke="#000" stroke-width="0.8"/><rect x="112.54" y="399.57" width="3.50" height="3.50" fill="#fff" stroke="#000" stroke-width="0.8"/><rect x="116.57" y="401.98" width="3.50" height="3.50" fill="#fff" stroke="#000" stroke-width="0.8"/><rect x="144.75" y="488.12" width="3.50" height="3.50" fill="#fff" stroke="#000" stroke-width="0.8"/><rect x="148.77" y="488.12" width="3.50" height="3.50" fill="#fff" stroke="#000" stroke-width="0.8"/><rect x="152.80" y="485.70" width="3.50" height="3.50" fill="#fff" stroke="#000" stroke-width="0.8"/><rect x="156.83" y="488.92" width="3.50" height="3.50" fill="#fff" stroke="#000" stroke-width="0.8"/><rect x="160.85" y="489.72" width="3.50" height="3.50" fill="#fff" stroke="#000" stroke-width="0.8"/><rect x="172.93" y="487.31" width="3.50" height="3.50" fill="#fff" stroke="#000" stroke-width="0.8"/><rect x="176.95" y="491.41" width="3.50" height="3.50" fill="#fff" stroke="#000" stroke-width="0.8"/><rect x="180.98" y="487.79" width="3.50" height="3.50" fill="#fff" stroke="#000" stroke-width="0.8"/><rect x="185.01" y="481.53" width="3.50" height="3.50" fill="#fff" stroke="#000" stroke-width="0.8"/><rect x="189.03" y="469.07" width="3.50" height="3.50" fill="#fff" stroke="#000" stroke-width="0.8"/><rect x="193.06" y="455.81" width="3.50" height="3.50" fill="#fff" stroke="#000" stroke-width="0.8"/><rect x="197.08" y="449.39" width="3.50" height="3.50" fill="#fff" stroke="#000" stroke-width="0.8"/><rect x="245.40" y="485.95" width="3.50" height="3.50" fill="#fff" stroke="#000" stroke-width="0.8"/><rect x="273.58" y="497.60" width="3.50" height="3.50" fill="#fff" stroke="#000" stroke-width="0.8"/><rect x="289.68" y="480.72" width="3.50" height="3.50" fill="#fff" stroke="#000" stroke-width="0.8"/><rect x="305.78" y="481.12" width="3.50" height="3.50" fill="#fff" stroke="#000" stroke-width="0.8"/><rect x="317.86" y="488.76" width="3.50" height="3.50" fill="#fff" stroke="#000" stroke-width="0.8"/><rect x="329.94" y="487.47" width="3.50" height="3.50" fill="#fff" stroke="#000" stroke-width="0.8"/><rect x="342.02" y="497.60" width="3.50" height="3.50" fill="#fff" stroke="#000" stroke-width="0.8"/><rect x="354.09" y="497.03" width="3.50" height="3.50" fill="#fff" stroke="#000" stroke-width="0.8"/><rect x="366.17" y="495.19" width="3.50" height="3.50" fill="#fff" stroke="#000" stroke-width="0.8"/><rect x="378.25" y="506.11" width="3.50" height="3.50" fill="#fff" stroke="#000" stroke-width="0.8"/><rect x="390.33" y="500.65" width="3.50" height="3.50" fill="#fff" stroke="#000" stroke-width="0.8"/><rect x="402.41" y="494.38" width="3.50" height="3.50" fill="#fff" stroke="#000" stroke-width="0.8"/><rect x="414.48" y="494.78" width="3.50" height="3.50" fill="#fff" stroke="#000" stroke-width="0.8"/><rect x="426.56" y="508.28" width="3.50" height="3.50" fill="#fff" stroke="#000" stroke-width="0.8"/><rect x="438.64" y="491.57" width="3.50" height="3.50" fill="#fff" stroke="#000" stroke-width="0.8"/><rect x="450.72" y="497.92" width="3.50" height="3.50" fill="#fff" stroke="#000" stroke-width="0.8"/><rect x="454.74" y="502.42" width="3.50" height="3.50" fill="#fff" stroke="#000" stroke-width="0.8"/><rect x="458.77" y="506.60" width="3.50" height="3.50" fill="#fff" stroke="#000" stroke-width="0.8"/><rect x="462.79" y="505.79" width="3.50" height="3.50" fill="#fff" stroke="#000" stroke-width="0.8"/><rect x="466.82" y="493.26" width="3.50" height="3.50" fill="#fff" stroke="#000" stroke-width="0.8"/><rect x="470.85" y="491.57" width="3.50" height="3.50" fill="#fff" stroke="#000" stroke-width="0.8"/><rect x="474.87" y="485.79" width="3.50" height="3.50" fill="#fff" stroke="#000" stroke-width="0.8"/>
<path d="M102.21 412.89 L106.24 375.77 L110.26 357.45 L114.29 368.62 L118.32 402.69 L122.34 390.23 L126.37 415.78 L130.39 439.89 L134.42 446.72 L138.45 449.13 L142.47 441.74 L146.50 436.83 L150.52 436.03 L154.55 439.08 L158.58 440.69 L162.60 442.30 L166.63 443.42 L170.65 456.52 L174.68 465.52 L178.70 467.21 L182.73 468.81 L186.76 468.81 L190.78 461.42 L194.81 452.42 L198.83 449.53 L210.91 439.08 L231.04 478.46 L247.15 484.64 L255.20 479.26 L259.22 484.64 L275.33 492.60 L279.35 489.70 L283.38 495.33 L295.46 496.13 L303.51 500.15 L307.53 503.36 L311.56 504.97 L315.59 505.77 L319.61 508.99 L323.64 511.40 L327.66 512.20 L331.69 516.22 L335.72 521.04 L339.74 525.06 L347.79 531.49 L355.84 532.93 L371.95 533.82 L388.05 533.82 L404.16 535.50 L408.18 536.71 L412.21 537.51 L416.23 537.91 L420.26 538.32 L424.29 537.91 L428.31 538.72 L432.34 537.91 L436.36 537.91 L440.39 538.32 L444.41 537.91" fill="none" stroke="#333" stroke-width="0.8" stroke-linejoin="round"/><path d="M102.21 410.59L104.51 414.73L99.91 414.73Z" fill="#fff" stroke="#000" stroke-width="0.8"/><path d="M106.24 373.47L108.54 377.61L103.94 377.61Z" fill="#fff" stroke="#000" stroke-width="0.8"/><path d="M110.26 355.15L112.56 359.29L107.96 359.29Z" fill="#fff" stroke="#000" stroke-width="0.8"/><path d="M114.29 366.32L116.59 370.46L111.99 370.46Z" fill="#fff" stroke="#000" stroke-width="0.8"/><path d="M118.32 400.39L120.62 404.53L116.02 404.53Z" fill="#fff" stroke="#000" stroke-width="0.8"/><path d="M122.34 387.93L124.64 392.07L120.04 392.07Z" fill="#fff" stroke="#000" stroke-width="0.8"/><path d="M126.37 413.48L128.67 417.62L124.07 417.62Z" fill="#fff" stroke="#000" stroke-width="0.8"/><path d="M130.39 437.59L132.69 441.73L128.09 441.73Z" fill="#fff" stroke="#000" stroke-width="0.8"/><path d="M134.42 444.42L136.72 448.56L132.12 448.56Z" fill="#fff" stroke="#000" stroke-width="0.8"/><path d="M138.45 446.83L140.75 450.97L136.15 450.97Z" fill="#fff" stroke="#000" stroke-width="0.8"/><path d="M142.47 439.44L144.77 443.58L140.17 443.58Z" fill="#fff" stroke="#000" stroke-width="0.8"/><path d="M146.50 434.53L148.80 438.67L144.20 438.67Z" fill="#fff" stroke="#000" stroke-width="0.8"/><path d="M150.52 433.73L152.82 437.87L148.22 437.87Z" fill="#fff" stroke="#000" stroke-width="0.8"/><path d="M154.55 436.78L156.85 440.92L152.25 440.92Z" fill="#fff" stroke="#000" stroke-width="0.8"/><path d="M158.58 438.39L160.88 442.53L156.28 442.53Z" fill="#fff" stroke="#000" stroke-width="0.8"/><path d="M162.60 440.00L164.90 444.14L160.30 444.14Z" fill="#fff" stroke="#000" stroke-width="0.8"/><path d="M166.63 441.12L168.93 445.26L164.33 445.26Z" fill="#fff" stroke="#000" stroke-width="0.8"/><path d="M170.65 454.22L172.95 458.36L168.35 458.36Z" fill="#fff" stroke="#000" stroke-width="0.8"/><path d="M174.68 463.22L176.98 467.36L172.38 467.36Z" fill="#fff" stroke="#000" stroke-width="0.8"/><path d="M178.70 464.91L181.00 469.05L176.40 469.05Z" fill="#fff" stroke="#000" stroke-width="0.8"/><path d="M182.73 466.51L185.03 470.65L180.43 470.65Z" fill="#fff" stroke="#000" stroke-width="0.8"/><path d="M186.76 466.51L189.06 470.65L184.46 470.65Z" fill="#fff" stroke="#000" stroke-width="0.8"/><path d="M190.78 459.12L193.08 463.26L188.48 463.26Z" fill="#fff" stroke="#000" stroke-width="0.8"/><path d="M194.81 450.12L197.11 454.26L192.51 454.26Z" fill="#fff" stroke="#000" stroke-width="0.8"/><path d="M198.83 447.23L201.13 451.37L196.53 451.37Z" fill="#fff" stroke="#000" stroke-width="0.8"/><path d="M210.91 436.78L213.21 440.92L208.61 440.92Z" fill="#fff" stroke="#000" stroke-width="0.8"/><path d="M231.04 476.16L233.34 480.30L228.74 480.30Z" fill="#fff" stroke="#000" stroke-width="0.8"/><path d="M247.15 482.34L249.45 486.48L244.85 486.48Z" fill="#fff" stroke="#000" stroke-width="0.8"/><path d="M255.20 476.96L257.50 481.10L252.90 481.10Z" fill="#fff" stroke="#000" stroke-width="0.8"/><path d="M259.22 482.34L261.52 486.48L256.92 486.48Z" fill="#fff" stroke="#000" stroke-width="0.8"/><path d="M275.33 490.30L277.63 494.44L273.03 494.44Z" fill="#fff" stroke="#000" stroke-width="0.8"/><path d="M279.35 487.40L281.65 491.54L277.05 491.54Z" fill="#fff" stroke="#000" stroke-width="0.8"/><path d="M283.38 493.03L285.68 497.17L281.08 497.17Z" fill="#fff" stroke="#000" stroke-width="0.8"/><path d="M295.46 493.83L297.76 497.97L293.16 497.97Z" fill="#fff" stroke="#000" stroke-width="0.8"/><path d="M303.51 497.85L305.81 501.99L301.21 501.99Z" fill="#fff" stroke="#000" stroke-width="0.8"/><path d="M307.53 501.06L309.83 505.20L305.23 505.20Z" fill="#fff" stroke="#000" stroke-width="0.8"/><path d="M311.56 502.67L313.86 506.81L309.26 506.81Z" fill="#fff" stroke="#000" stroke-width="0.8"/><path d="M315.59 503.47L317.89 507.61L313.29 507.61Z" fill="#fff" stroke="#000" stroke-width="0.8"/><path d="M319.61 506.69L321.91 510.83L317.31 510.83Z" fill="#fff" stroke="#000" stroke-width="0.8"/><path d="M323.64 509.10L325.94 513.24L321.34 513.24Z" fill="#fff" stroke="#000" stroke-width="0.8"/><path d="M327.66 509.90L329.96 514.04L325.36 514.04Z" fill="#fff" stroke="#000" stroke-width="0.8"/><path d="M331.69 513.92L333.99 518.06L329.39 518.06Z" fill="#fff" stroke="#000" stroke-width="0.8"/><path d="M335.72 518.74L338.02 522.88L333.42 522.88Z" fill="#fff" stroke="#000" stroke-width="0.8"/><path d="M339.74 522.76L342.04 526.90L337.44 526.90Z" fill="#fff" stroke="#000" stroke-width="0.8"/><path d="M347.79 529.19L350.09 533.33L345.49 533.33Z" fill="#fff" stroke="#000" stroke-width="0.8"/><path d="M355.84 530.63L358.14 534.77L353.54 534.77Z" fill="#fff" stroke="#000" stroke-width="0.8"/><path d="M371.95 531.52L374.25 535.66L369.65 535.66Z" fill="#fff" stroke="#000" stroke-width="0.8"/><path d="M388.05 531.52L390.35 535.66L385.75 535.66Z" fill="#fff" stroke="#000" stroke-width="0.8"/><path d="M404.16 533.20L406.46 537.34L401.86 537.34Z" fill="#fff" stroke="#000" stroke-width="0.8"/><path d="M408.18 534.41L410.48 538.55L405.88 538.55Z" fill="#fff" stroke="#000" stroke-width="0.8"/><path d="M412.21 535.21L414.51 539.35L409.91 539.35Z" fill="#fff" stroke="#000" stroke-width="0.8"/><path d="M416.23 535.61L418.53 539.75L413.93 539.75Z" fill="#fff" stroke="#000" stroke-width="0.8"/><path d="M420.26 536.02L422.56 540.16L417.96 540.16Z" fill="#fff" stroke="#000" stroke-width="0.8"/><path d="M424.29 535.61L426.59 539.75L421.99 539.75Z" fill="#fff" stroke="#000" stroke-width="0.8"/><path d="M428.31 536.42L430.61 540.56L426.01 540.56Z" fill="#fff" stroke="#000" stroke-width="0.8"/><path d="M432.34 535.61L434.64 539.75L430.04 539.75Z" fill="#fff" stroke="#000" stroke-width="0.8"/><path d="M436.36 535.61L438.66 539.75L434.06 539.75Z" fill="#fff" stroke="#000" stroke-width="0.8"/><path d="M440.39 536.02L442.69 540.16L438.09 540.16Z" fill="#fff" stroke="#000" stroke-width="0.8"/><path d="M444.41 535.61L446.71 539.75L442.11 539.75Z" fill="#fff" stroke="#000" stroke-width="0.8"/>
<path d="M110.26 409.35 L114.29 400.52 L122.34 424.62 L130.39 437.48 M178.70 499.43 L182.73 503.04 L190.78 500.31 L202.86 485.12 L218.96 499.03 L227.02 496.61 L243.12 501.19 L251.17 501.11 L259.22 502.00 L267.27 502.00 L275.33 499.27 L279.35 494.45 L283.38 496.53 L291.43 493.16 L299.48 492.60 L307.53 493.80 L315.59 492.92 L323.64 492.12 L331.69 493.80 L339.74 502.08 L347.79 509.39 L355.84 512.12 L363.90 513.41 L371.95 513.01 L380.00 513.01 L388.05 507.86 L396.10 507.86 L404.16 506.58 L412.21 510.84 L420.26 513.01 L428.31 518.39" fill="none" stroke="#333" stroke-width="0.8" stroke-linejoin="round"/><circle cx="110.26" cy="409.35" r="1.95" fill="#fff" stroke="#000" stroke-width="0.8"/><circle cx="114.29" cy="400.52" r="1.95" fill="#fff" stroke="#000" stroke-width="0.8"/><circle cx="122.34" cy="424.62" r="1.95" fill="#fff" stroke="#000" stroke-width="0.8"/><circle cx="130.39" cy="437.48" r="1.95" fill="#fff" stroke="#000" stroke-width="0.8"/><circle cx="178.70" cy="499.43" r="1.95" fill="#fff" stroke="#000" stroke-width="0.8"/><circle cx="182.73" cy="503.04" r="1.95" fill="#fff" stroke="#000" stroke-width="0.8"/><circle cx="190.78" cy="500.31" r="1.95" fill="#fff" stroke="#000" stroke-width="0.8"/><circle cx="202.86" cy="485.12" r="1.95" fill="#fff" stroke="#000" stroke-width="0.8"/><circle cx="218.96" cy="499.03" r="1.95" fill="#fff" stroke="#000" stroke-width="0.8"/><circle cx="227.02" cy="496.61" r="1.95" fill="#fff" stroke="#000" stroke-width="0.8"/><circle cx="243.12" cy="501.19" r="1.95" fill="#fff" stroke="#000" stroke-width="0.8"/><circle cx="251.17" cy="501.11" r="1.95" fill="#fff" stroke="#000" stroke-width="0.8"/><circle cx="259.22" cy="502.00" r="1.95" fill="#fff" stroke="#000" stroke-width="0.8"/><circle cx="267.27" cy="502.00" r="1.95" fill="#fff" stroke="#000" stroke-width="0.8"/><circle cx="275.33" cy="499.27" r="1.95" fill="#fff" stroke="#000" stroke-width="0.8"/><circle cx="279.35" cy="494.45" r="1.95" fill="#fff" stroke="#000" stroke-width="0.8"/><circle cx="283.38" cy="496.53" r="1.95" fill="#fff" stroke="#000" stroke-width="0.8"/><circle cx="291.43" cy="493.16" r="1.95" fill="#fff" stroke="#000" stroke-width="0.8"/><circle cx="299.48" cy="492.60" r="1.95" fill="#fff" stroke="#000" stroke-width="0.8"/><circle cx="307.53" cy="493.80" r="1.95" fill="#fff" stroke="#000" stroke-width="0.8"/><circle cx="315.59" cy="492.92" r="1.95" fill="#fff" stroke="#000" stroke-width="0.8"/><circle cx="323.64" cy="492.12" r="1.95" fill="#fff" stroke="#000" stroke-width="0.8"/><circle cx="331.69" cy="493.80" r="1.95" fill="#fff" stroke="#000" stroke-width="0.8"/><circle cx="339.74" cy="502.08" r="1.95" fill="#fff" stroke="#000" stroke-width="0.8"/><circle cx="347.79" cy="509.39" r="1.95" fill="#fff" stroke="#000" stroke-width="0.8"/><circle cx="355.84" cy="512.12" r="1.95" fill="#fff" stroke="#000" stroke-width="0.8"/><circle cx="363.90" cy="513.41" r="1.95" fill="#fff" stroke="#000" stroke-width="0.8"/><circle cx="371.95" cy="513.01" r="1.95" fill="#fff" stroke="#000" stroke-width="0.8"/><circle cx="380.00" cy="513.01" r="1.95" fill="#fff" stroke="#000" stroke-width="0.8"/><circle cx="388.05" cy="507.86" r="1.95" fill="#fff" stroke="#000" stroke-width="0.8"/><circle cx="396.10" cy="507.86" r="1.95" fill="#fff" stroke="#000" stroke-width="0.8"/><circle cx="404.16" cy="506.58" r="1.95" fill="#fff" stroke="#000" stroke-width="0.8"/><circle cx="412.21" cy="510.84" r="1.95" fill="#fff" stroke="#000" stroke-width="0.8"/><circle cx="420.26" cy="513.01" r="1.95" fill="#fff" stroke="#000" stroke-width="0.8"/><circle cx="428.31" cy="518.39" r="1.95" fill="#fff" stroke="#000" stroke-width="0.8"/>
<path d="M45.85 450.57 L49.88 444.87 L53.90 437.72 L57.93 440.69 L61.95 447.68 L65.98 434.18 L70.01 433.46 L74.03 433.46 L78.06 429.20 L82.08 430.17 L86.11 431.85 L90.13 435.63 L94.16 437.48 L98.19 440.61 L102.21 431.37 L106.24 423.50 L110.26 425.18 L114.29 431.85 L118.32 448.08 L122.34 457.56 L126.37 443.50 L130.39 434.34 L134.42 426.47 L138.45 425.18 L142.47 424.62 L146.50 434.42 L150.52 435.23 L154.55 432.66 L158.58 430.25 L162.60 435.23 L166.63 444.23 L170.65 441.74 L174.68 439.33 L178.70 433.62 L182.73 427.84 L186.76 430.25 L190.78 430.25 L194.81 426.23 L198.83 420.60 L202.86 437.48 L206.89 448.32 L210.91 446.72 L214.94 459.81 L218.96 472.03 L222.99 498.54 L227.02 529.56 L231.04 525.06 L235.07 521.36 L239.09 517.02 L243.12 516.38 L247.15 517.02 L251.17 517.67 L255.20 517.02 L259.22 518.47 L263.25 520.24 L267.27 521.04 L271.30 521.28 L275.33 518.47 L279.35 517.59 L283.38 516.70 L287.40 514.85 L291.43 512.12 L295.46 511.16 L299.48 513.01 L303.51 513.97 L307.53 518.15 L311.56 519.43 L315.59 519.43 L319.61 519.43 L323.64 515.74 L327.66 513.01 L331.69 514.85 L335.72 518.47 L339.74 520.24 L343.77 523.05 L347.79 524.01 L351.82 525.86 L355.84 524.90 L359.87 524.34 L363.90 523.61 L367.92 523.05 L371.95 524.01 L375.97 524.34 L380.00 524.90 L384.03 524.34 L388.05 523.05 L392.08 521.28 L396.10 518.47 L400.13 516.70 L404.16 515.74 L408.18 514.85 L412.21 518.47 L416.23 523.37 L420.26 524.25 L424.29 523.37 L428.31 523.05 L432.34 523.05 L436.36 522.49 L440.39 518.71 L444.41 516.70 L448.44 514.21 L452.47 513.65 L456.49 512.52 L460.52 510.03 L464.54 507.54 L468.57 508.35" fill="none" stroke="#999" stroke-width="0.9" stroke-linejoin="round"/><path d="M45.85 448.17L48.25 452.49L43.45 452.49Z" fill="#999" stroke="none"/><path d="M49.88 442.47L52.28 446.79L47.48 446.79Z" fill="#999" stroke="none"/><path d="M53.90 435.32L56.30 439.64L51.50 439.64Z" fill="#999" stroke="none"/><path d="M57.93 438.29L60.33 442.61L55.53 442.61Z" fill="#999" stroke="none"/><path d="M61.95 445.28L64.35 449.60L59.55 449.60Z" fill="#999" stroke="none"/><path d="M65.98 431.78L68.38 436.10L63.58 436.10Z" fill="#999" stroke="none"/><path d="M70.01 431.06L72.41 435.38L67.61 435.38Z" fill="#999" stroke="none"/><path d="M74.03 431.06L76.43 435.38L71.63 435.38Z" fill="#999" stroke="none"/><path d="M78.06 426.80L80.46 431.12L75.66 431.12Z" fill="#999" stroke="none"/><path d="M82.08 427.77L84.48 432.09L79.68 432.09Z" fill="#999" stroke="none"/><path d="M86.11 429.45L88.51 433.77L83.71 433.77Z" fill="#999" stroke="none"/><path d="M90.13 433.23L92.53 437.55L87.73 437.55Z" fill="#999" stroke="none"/><path d="M94.16 435.08L96.56 439.40L91.76 439.40Z" fill="#999" stroke="none"/><path d="M98.19 438.21L100.59 442.53L95.79 442.53Z" fill="#999" stroke="none"/><path d="M102.21 428.97L104.61 433.29L99.81 433.29Z" fill="#999" stroke="none"/><path d="M106.24 421.10L108.64 425.42L103.84 425.42Z" fill="#999" stroke="none"/><path d="M110.26 422.78L112.66 427.10L107.86 427.10Z" fill="#999" stroke="none"/><path d="M114.29 429.45L116.69 433.77L111.89 433.77Z" fill="#999" stroke="none"/><path d="M118.32 445.68L120.72 450.00L115.92 450.00Z" fill="#999" stroke="none"/><path d="M122.34 455.16L124.74 459.48L119.94 459.48Z" fill="#999" stroke="none"/><path d="M126.37 441.10L128.77 445.42L123.97 445.42Z" fill="#999" stroke="none"/><path d="M130.39 431.94L132.79 436.26L127.99 436.26Z" fill="#999" stroke="none"/><path d="M134.42 424.07L136.82 428.39L132.02 428.39Z" fill="#999" stroke="none"/><path d="M138.45 422.78L140.85 427.10L136.05 427.10Z" fill="#999" stroke="none"/><path d="M142.47 422.22L144.87 426.54L140.07 426.54Z" fill="#999" stroke="none"/><path d="M146.50 432.02L148.90 436.34L144.10 436.34Z" fill="#999" stroke="none"/><path d="M150.52 432.83L152.92 437.15L148.12 437.15Z" fill="#999" stroke="none"/><path d="M154.55 430.26L156.95 434.58L152.15 434.58Z" fill="#999" stroke="none"/><path d="M158.58 427.85L160.98 432.17L156.18 432.17Z" fill="#999" stroke="none"/><path d="M162.60 432.83L165.00 437.15L160.20 437.15Z" fill="#999" stroke="none"/><path d="M166.63 441.83L169.03 446.15L164.23 446.15Z" fill="#999" stroke="none"/><path d="M170.65 439.34L173.05 443.66L168.25 443.66Z" fill="#999" stroke="none"/><path d="M174.68 436.93L177.08 441.25L172.28 441.25Z" fill="#999" stroke="none"/><path d="M178.70 431.22L181.10 435.54L176.30 435.54Z" fill="#999" stroke="none"/><path d="M182.73 425.44L185.13 429.76L180.33 429.76Z" fill="#999" stroke="none"/><path d="M186.76 427.85L189.16 432.17L184.36 432.17Z" fill="#999" stroke="none"/><path d="M190.78 427.85L193.18 432.17L188.38 432.17Z" fill="#999" stroke="none"/><path d="M194.81 423.83L197.21 428.15L192.41 428.15Z" fill="#999" stroke="none"/><path d="M198.83 418.20L201.23 422.52L196.43 422.52Z" fill="#999" stroke="none"/><path d="M202.86 435.08L205.26 439.40L200.46 439.40Z" fill="#999" stroke="none"/><path d="M206.89 445.92L209.29 450.24L204.49 450.24Z" fill="#999" stroke="none"/><path d="M210.91 444.32L213.31 448.64L208.51 448.64Z" fill="#999" stroke="none"/><path d="M214.94 457.41L217.34 461.73L212.54 461.73Z" fill="#999" stroke="none"/><path d="M218.96 469.63L221.36 473.95L216.56 473.95Z" fill="#999" stroke="none"/><path d="M222.99 496.14L225.39 500.46L220.59 500.46Z" fill="#999" stroke="none"/><path d="M227.02 527.16L229.42 531.48L224.62 531.48Z" fill="#999" stroke="none"/><path d="M231.04 522.66L233.44 526.98L228.64 526.98Z" fill="#999" stroke="none"/><path d="M235.07 518.96L237.47 523.28L232.67 523.28Z" fill="#999" stroke="none"/><path d="M239.09 514.62L241.49 518.94L236.69 518.94Z" fill="#999" stroke="none"/><path d="M243.12 513.98L245.52 518.30L240.72 518.30Z" fill="#999" stroke="none"/><path d="M247.15 514.62L249.55 518.94L244.75 518.94Z" fill="#999" stroke="none"/><path d="M251.17 515.27L253.57 519.59L248.77 519.59Z" fill="#999" stroke="none"/><path d="M255.20 514.62L257.60 518.94L252.80 518.94Z" fill="#999" stroke="none"/><path d="M259.22 516.07L261.62 520.39L256.82 520.39Z" fill="#999" stroke="none"/><path d="M263.25 517.84L265.65 522.16L260.85 522.16Z" fill="#999" stroke="none"/><path d="M267.27 518.64L269.67 522.96L264.88 522.96Z" fill="#999" stroke="none"/><path d="M271.30 518.88L273.70 523.20L268.90 523.20Z" fill="#999" stroke="none"/><path d="M275.33 516.07L277.73 520.39L272.93 520.39Z" fill="#999" stroke="none"/><path d="M279.35 515.19L281.75 519.51L276.95 519.51Z" fill="#999" stroke="none"/><path d="M283.38 514.30L285.78 518.62L280.98 518.62Z" fill="#999" stroke="none"/><path d="M287.40 512.45L289.80 516.77L285.00 516.77Z" fill="#999" stroke="none"/><path d="M291.43 509.72L293.83 514.04L289.03 514.04Z" fill="#999" stroke="none"/><path d="M295.46 508.76L297.86 513.08L293.06 513.08Z" fill="#999" stroke="none"/><path d="M299.48 510.61L301.88 514.93L297.08 514.93Z" fill="#999" stroke="none"/><path d="M303.51 511.57L305.91 515.89L301.11 515.89Z" fill="#999" stroke="none"/><path d="M307.53 515.75L309.93 520.07L305.13 520.07Z" fill="#999" stroke="none"/><path d="M311.56 517.03L313.96 521.35L309.16 521.35Z" fill="#999" stroke="none"/><path d="M315.59 517.03L317.99 521.35L313.19 521.35Z" fill="#999" stroke="none"/><path d="M319.61 517.03L322.01 521.35L317.21 521.35Z" fill="#999" stroke="none"/><path d="M323.64 513.34L326.04 517.66L321.24 517.66Z" fill="#999" stroke="none"/><path d="M327.66 510.61L330.06 514.93L325.26 514.93Z" fill="#999" stroke="none"/><path d="M331.69 512.45L334.09 516.77L329.29 516.77Z" fill="#999" stroke="none"/><path d="M335.72 516.07L338.12 520.39L333.32 520.39Z" fill="#999" stroke="none"/><path d="M339.74 517.84L342.14 522.16L337.34 522.16Z" fill="#999" stroke="none"/><path d="M343.77 520.65L346.17 524.97L341.37 524.97Z" fill="#999" stroke="none"/><path d="M347.79 521.61L350.19 525.93L345.39 525.93Z" fill="#999" stroke="none"/><path d="M351.82 523.46L354.22 527.78L349.42 527.78Z" fill="#999" stroke="none"/><path d="M355.84 522.50L358.24 526.82L353.44 526.82Z" fill="#999" stroke="none"/><path d="M359.87 521.94L362.27 526.26L357.47 526.26Z" fill="#999" stroke="none"/><path d="M363.90 521.21L366.30 525.53L361.50 525.53Z" fill="#999" stroke="none"/><path d="M367.92 520.65L370.32 524.97L365.52 524.97Z" fill="#999" stroke="none"/><path d="M371.95 521.61L374.35 525.93L369.55 525.93Z" fill="#999" stroke="none"/><path d="M375.97 521.94L378.37 526.26L373.57 526.26Z" fill="#999" stroke="none"/><path d="M380.00 522.50L382.40 526.82L377.60 526.82Z" fill="#999" stroke="none"/><path d="M384.03 521.94L386.43 526.26L381.63 526.26Z" fill="#999" stroke="none"/><path d="M388.05 520.65L390.45 524.97L385.65 524.97Z" fill="#999" stroke="none"/><path d="M392.08 518.88L394.48 523.20L389.68 523.20Z" fill="#999" stroke="none"/><path d="M396.10 516.07L398.50 520.39L393.70 520.39Z" fill="#999" stroke="none"/><path d="M400.13 514.30L402.53 518.62L397.73 518.62Z" fill="#999" stroke="none"/><path d="M404.16 513.34L406.56 517.66L401.76 517.66Z" fill="#999" stroke="none"/><path d="M408.18 512.45L410.58 516.77L405.78 516.77Z" fill="#999" stroke="none"/><path d="M412.21 516.07L414.61 520.39L409.81 520.39Z" fill="#999" stroke="none"/><path d="M416.23 520.97L418.63 525.29L413.83 525.29Z" fill="#999" stroke="none"/><path d="M420.26 521.86L422.66 526.17L417.86 526.17Z" fill="#999" stroke="none"/><path d="M424.29 520.97L426.69 525.29L421.89 525.29Z" fill="#999" stroke="none"/><path d="M428.31 520.65L430.71 524.97L425.91 524.97Z" fill="#999" stroke="none"/><path d="M432.34 520.65L434.74 524.97L429.94 524.97Z" fill="#999" stroke="none"/><path d="M436.36 520.09L438.76 524.41L433.96 524.41Z" fill="#999" stroke="none"/><path d="M440.39 516.31L442.79 520.63L437.99 520.63Z" fill="#999" stroke="none"/><path d="M444.41 514.30L446.81 518.62L442.01 518.62Z" fill="#999" stroke="none"/><path d="M448.44 511.81L450.84 516.13L446.04 516.13Z" fill="#999" stroke="none"/><path d="M452.47 511.25L454.87 515.57L450.07 515.57Z" fill="#999" stroke="none"/><path d="M456.49 510.12L458.89 514.44L454.09 514.44Z" fill="#999" stroke="none"/><path d="M460.52 507.63L462.92 511.95L458.12 511.95Z" fill="#999" stroke="none"/><path d="M464.54 505.14L466.94 509.46L462.14 509.46Z" fill="#999" stroke="none"/><path d="M468.57 505.95L470.97 510.27L466.17 510.27Z" fill="#999" stroke="none"/>
<path d="M57.93 363.55 L74.03 408.15 L90.13 423.82 L94.16 412.97 L110.26 354.72 L122.34 449.13 L126.37 472.35 L166.63 470.34 L186.76 483.28 L210.91 497.58 L218.96 497.90 L222.99 497.90 L227.02 501.19 L231.04 510.35 L235.07 514.61 L239.09 517.67 L243.12 520.40 L247.15 519.51 L251.17 522.25 L255.20 524.98 L259.22 524.25 L263.25 524.90 L267.27 526.18 L271.30 527.63 L275.33 525.86 L279.35 524.90 L283.38 523.61 L287.40 525.46 L291.43 525.86 L295.46 526.18 L299.48 527.31 L303.51 528.03 L307.53 528.59 L311.56 529.48 L315.59 528.03 L319.61 528.59 L323.64 530.36 L327.66 532.29 L331.69 534.38 L335.72 535.50 L339.74 535.66 L343.77 536.55 L347.79 538.40 L351.82 540.57 L355.84 542.41 L359.87 543.86 L363.90 546.59 L367.92 548.44 L371.95 549.00 L375.97 547.88 L380.00 547.88 L384.03 547.88 L388.05 547.88 L392.08 547.88 L396.10 546.59 L400.13 545.39 L404.16 543.86 L408.18 543.54 L412.21 539.28 L416.23 537.91 L420.26 537.11 L424.29 535.83 L428.31 538.32 L432.34 536.31 L436.36 534.22 L440.39 533.33 L444.41 532.53 L448.44 532.53 L452.47 533.01 L456.49 535.34 L460.52 536.31 L464.54 534.70 L468.57 529.72 L472.60 527.55 L476.62 525.06 L480.65 523.05 L484.67 526.67" fill="none" stroke="#333" stroke-width="0.8" stroke-linejoin="round"/><path d="M55.83 361.45L60.03 365.65M60.03 361.45L55.83 365.65" stroke="#111" stroke-width="1.0" fill="none"/><path d="M71.93 406.05L76.13 410.25M76.13 406.05L71.93 410.25" stroke="#111" stroke-width="1.0" fill="none"/><path d="M88.03 421.72L92.23 425.92M92.23 421.72L88.03 425.92" stroke="#111" stroke-width="1.0" fill="none"/><path d="M92.06 410.87L96.26 415.07M96.26 410.87L92.06 415.07" stroke="#111" stroke-width="1.0" fill="none"/><path d="M108.16 352.62L112.36 356.82M112.36 352.62L108.16 356.82" stroke="#111" stroke-width="1.0" fill="none"/><path d="M120.24 447.03L124.44 451.23M124.44 447.03L120.24 451.23" stroke="#111" stroke-width="1.0" fill="none"/><path d="M124.27 470.25L128.47 474.45M128.47 470.25L124.27 474.45" stroke="#111" stroke-width="1.0" fill="none"/><path d="M164.53 468.24L168.73 472.44M168.73 468.24L164.53 472.44" stroke="#111" stroke-width="1.0" fill="none"/><path d="M184.66 481.18L188.86 485.38M188.86 481.18L184.66 485.38" stroke="#111" stroke-width="1.0" fill="none"/><path d="M208.81 495.48L213.01 499.68M213.01 495.48L208.81 499.68" stroke="#111" stroke-width="1.0" fill="none"/><path d="M216.86 495.80L221.06 500.00M221.06 495.80L216.86 500.00" stroke="#111" stroke-width="1.0" fill="none"/><path d="M220.89 495.80L225.09 500.00M225.09 495.80L220.89 500.00" stroke="#111" stroke-width="1.0" fill="none"/><path d="M224.92 499.09L229.12 503.29M229.12 499.09L224.92 503.29" stroke="#111" stroke-width="1.0" fill="none"/><path d="M228.94 508.25L233.14 512.45M233.14 508.25L228.94 512.45" stroke="#111" stroke-width="1.0" fill="none"/><path d="M232.97 512.51L237.17 516.71M237.17 512.51L232.97 516.71" stroke="#111" stroke-width="1.0" fill="none"/><path d="M236.99 515.57L241.19 519.77M241.19 515.57L236.99 519.77" stroke="#111" stroke-width="1.0" fill="none"/><path d="M241.02 518.30L245.22 522.50M245.22 518.30L241.02 522.50" stroke="#111" stroke-width="1.0" fill="none"/><path d="M245.05 517.41L249.25 521.61M249.25 517.41L245.05 521.61" stroke="#111" stroke-width="1.0" fill="none"/><path d="M249.07 520.15L253.27 524.35M253.27 520.15L249.07 524.35" stroke="#111" stroke-width="1.0" fill="none"/><path d="M253.10 522.88L257.30 527.08M257.30 522.88L253.10 527.08" stroke="#111" stroke-width="1.0" fill="none"/><path d="M257.12 522.15L261.32 526.36M261.32 522.15L257.12 526.36" stroke="#111" stroke-width="1.0" fill="none"/><path d="M261.15 522.80L265.35 527.00M265.35 522.80L261.15 527.00" stroke="#111" stroke-width="1.0" fill="none"/><path d="M265.17 524.08L269.38 528.28M269.38 524.08L265.17 528.28" stroke="#111" stroke-width="1.0" fill="none"/><path d="M269.20 525.53L273.40 529.73M273.40 525.53L269.20 529.73" stroke="#111" stroke-width="1.0" fill="none"/><path d="M273.23 523.76L277.43 527.96M277.43 523.76L273.23 527.96" stroke="#111" stroke-width="1.0" fill="none"/><path d="M277.25 522.80L281.45 527.00M281.45 522.80L277.25 527.00" stroke="#111" stroke-width="1.0" fill="none"/><path d="M281.28 521.51L285.48 525.71M285.48 521.51L281.28 525.71" stroke="#111" stroke-width="1.0" fill="none"/><path d="M285.30 523.36L289.50 527.56M289.50 523.36L285.30 527.56" stroke="#111" stroke-width="1.0" fill="none"/><path d="M289.33 523.76L293.53 527.96M293.53 523.76L289.33 527.96" stroke="#111" stroke-width="1.0" fill="none"/><path d="M293.36 524.08L297.56 528.28M297.56 524.08L293.36 528.28" stroke="#111" stroke-width="1.0" fill="none"/><path d="M297.38 525.21L301.58 529.41M301.58 525.21L297.38 529.41" stroke="#111" stroke-width="1.0" fill="none"/><path d="M301.41 525.93L305.61 530.13M305.61 525.93L301.41 530.13" stroke="#111" stroke-width="1.0" fill="none"/><path d="M305.43 526.49L309.63 530.69M309.63 526.49L305.43 530.69" stroke="#111" stroke-width="1.0" fill="none"/><path d="M309.46 527.38L313.66 531.58M313.66 527.38L309.46 531.58" stroke="#111" stroke-width="1.0" fill="none"/><path d="M313.49 525.93L317.69 530.13M317.69 525.93L313.49 530.13" stroke="#111" stroke-width="1.0" fill="none"/><path d="M317.51 526.49L321.71 530.69M321.71 526.49L317.51 530.69" stroke="#111" stroke-width="1.0" fill="none"/><path d="M321.54 528.26L325.74 532.46M325.74 528.26L321.54 532.46" stroke="#111" stroke-width="1.0" fill="none"/><path d="M325.56 530.19L329.76 534.39M329.76 530.19L325.56 534.39" stroke="#111" stroke-width="1.0" fill="none"/><path d="M329.59 532.28L333.79 536.48M333.79 532.28L329.59 536.48" stroke="#111" stroke-width="1.0" fill="none"/><path d="M333.62 533.40L337.82 537.60M337.82 533.40L333.62 537.60" stroke="#111" stroke-width="1.0" fill="none"/><path d="M337.64 533.56L341.84 537.76M341.84 533.56L337.64 537.76" stroke="#111" stroke-width="1.0" fill="none"/><path d="M341.67 534.45L345.87 538.65M345.87 534.45L341.67 538.65" stroke="#111" stroke-width="1.0" fill="none"/><path d="M345.69 536.30L349.89 540.50M349.89 536.30L345.69 540.50" stroke="#111" stroke-width="1.0" fill="none"/><path d="M349.72 538.47L353.92 542.67M353.92 538.47L349.72 542.67" stroke="#111" stroke-width="1.0" fill="none"/><path d="M353.74 540.31L357.94 544.51M357.94 540.31L353.74 544.51" stroke="#111" stroke-width="1.0" fill="none"/><path d="M357.77 541.76L361.97 545.96M361.97 541.76L357.77 545.96" stroke="#111" stroke-width="1.0" fill="none"/><path d="M361.80 544.49L366.00 548.69M366.00 544.49L361.80 548.69" stroke="#111" stroke-width="1.0" fill="none"/><path d="M365.82 546.34L370.02 550.54M370.02 546.34L365.82 550.54" stroke="#111" stroke-width="1.0" fill="none"/><path d="M369.85 546.90L374.05 551.10M374.05 546.90L369.85 551.10" stroke="#111" stroke-width="1.0" fill="none"/><path d="M373.87 545.78L378.07 549.98M378.07 545.78L373.87 549.98" stroke="#111" stroke-width="1.0" fill="none"/><path d="M377.90 545.78L382.10 549.98M382.10 545.78L377.90 549.98" stroke="#111" stroke-width="1.0" fill="none"/><path d="M381.93 545.78L386.13 549.98M386.13 545.78L381.93 549.98" stroke="#111" stroke-width="1.0" fill="none"/><path d="M385.95 545.78L390.15 549.98M390.15 545.78L385.95 549.98" stroke="#111" stroke-width="1.0" fill="none"/><path d="M389.98 545.78L394.18 549.98M394.18 545.78L389.98 549.98" stroke="#111" stroke-width="1.0" fill="none"/><path d="M394.00 544.49L398.20 548.69M398.20 544.49L394.00 548.69" stroke="#111" stroke-width="1.0" fill="none"/><path d="M398.03 543.29L402.23 547.49M402.23 543.29L398.03 547.49" stroke="#111" stroke-width="1.0" fill="none"/><path d="M402.06 541.76L406.26 545.96M406.26 541.76L402.06 545.96" stroke="#111" stroke-width="1.0" fill="none"/><path d="M406.08 541.44L410.28 545.64M410.28 541.44L406.08 545.64" stroke="#111" stroke-width="1.0" fill="none"/><path d="M410.11 537.18L414.31 541.38M414.31 537.18L410.11 541.38" stroke="#111" stroke-width="1.0" fill="none"/><path d="M414.13 535.81L418.33 540.01M418.33 535.81L414.13 540.01" stroke="#111" stroke-width="1.0" fill="none"/><path d="M418.16 535.01L422.36 539.21M422.36 535.01L418.16 539.21" stroke="#111" stroke-width="1.0" fill="none"/><path d="M422.19 533.73L426.39 537.93M426.39 533.73L422.19 537.93" stroke="#111" stroke-width="1.0" fill="none"/><path d="M426.21 536.22L430.41 540.42M430.41 536.22L426.21 540.42" stroke="#111" stroke-width="1.0" fill="none"/><path d="M430.24 534.21L434.44 538.41M434.44 534.21L430.24 538.41" stroke="#111" stroke-width="1.0" fill="none"/><path d="M434.26 532.12L438.46 536.32M438.46 532.12L434.26 536.32" stroke="#111" stroke-width="1.0" fill="none"/><path d="M438.29 531.23L442.49 535.43M442.49 531.23L438.29 535.43" stroke="#111" stroke-width="1.0" fill="none"/><path d="M442.31 530.43L446.51 534.63M446.51 530.43L442.31 534.63" stroke="#111" stroke-width="1.0" fill="none"/><path d="M446.34 530.43L450.54 534.63M450.54 530.43L446.34 534.63" stroke="#111" stroke-width="1.0" fill="none"/><path d="M450.37 530.91L454.57 535.11M454.57 530.91L450.37 535.11" stroke="#111" stroke-width="1.0" fill="none"/><path d="M454.39 533.24L458.59 537.44M458.59 533.24L454.39 537.44" stroke="#111" stroke-width="1.0" fill="none"/><path d="M458.42 534.21L462.62 538.41M462.62 534.21L458.42 538.41" stroke="#111" stroke-width="1.0" fill="none"/><path d="M462.44 532.60L466.64 536.80M466.64 532.60L462.44 536.80" stroke="#111" stroke-width="1.0" fill="none"/><path d="M466.47 527.62L470.67 531.82M470.67 527.62L466.47 531.82" stroke="#111" stroke-width="1.0" fill="none"/><path d="M470.50 525.45L474.70 529.65M474.70 525.45L470.50 529.65" stroke="#111" stroke-width="1.0" fill="none"/><path d="M474.52 522.96L478.72 527.16M478.72 522.96L474.52 527.16" stroke="#111" stroke-width="1.0" fill="none"/><path d="M478.55 520.95L482.75 525.15M482.75 520.95L478.55 525.15" stroke="#111" stroke-width="1.0" fill="none"/><path d="M482.57 524.57L486.77 528.77M486.77 524.57L482.57 528.77" stroke="#111" stroke-width="1.0" fill="none"/>
<rect x="240.10" y="346.40" width="151.30" height="85.60" fill="#fff" stroke="#444" stroke-width="1"/><line x1="243.20" y1="360.70" x2="257.80" y2="360.70" stroke="#111" stroke-width="0.9"/><path d="M250.50 358.83L252.37 360.70L250.50 362.57L248.63 360.70Z" fill="#000" stroke="none"/><text x="260.70" y="364.30" font-family="Liberation Sans, sans-serif" font-size="10.0" fill="#333">France</text><line x1="320.00" y1="360.70" x2="334.30" y2="360.70" stroke="#444" stroke-width="0.8"/><rect x="325.66" y="359.21" width="2.98" height="2.98" fill="#fff" stroke="#000" stroke-width="0.8"/><text x="337.80" y="364.30" font-family="Liberation Sans, sans-serif" font-size="10.0" fill="#333">Germany</text><line x1="243.20" y1="389.40" x2="257.80" y2="389.40" stroke="#333" stroke-width="0.8"/><path d="M250.50 387.44L252.46 390.96L248.54 390.96Z" fill="#fff" stroke="#000" stroke-width="0.8"/><text x="260.70" y="393.00" font-family="Liberation Sans, sans-serif" font-size="10.0" fill="#333">Netherlands</text><line x1="320.00" y1="389.40" x2="334.30" y2="389.40" stroke="#333" stroke-width="0.8"/><circle cx="327.15" cy="389.40" r="1.66" fill="#fff" stroke="#000" stroke-width="0.8"/><text x="337.80" y="393.00" font-family="Liberation Sans, sans-serif" font-size="10.0" fill="#333">Switzerland</text><line x1="243.20" y1="418.30" x2="257.80" y2="418.30" stroke="#999" stroke-width="0.9"/><path d="M250.50 416.26L252.54 419.93L248.46 419.93Z" fill="#999" stroke="none"/><text x="260.70" y="421.90" font-family="Liberation Sans, sans-serif" font-size="10.0" fill="#333">Japan</text><line x1="320.00" y1="418.30" x2="334.30" y2="418.30" stroke="#333" stroke-width="0.8"/><path d="M325.36 416.51L328.94 420.09M328.94 416.51L325.36 420.09" stroke="#111" stroke-width="1.0" fill="none"/><text x="337.80" y="421.90" font-family="Liberation Sans, sans-serif" font-size="10.0" fill="#333">Sweden</text>
</svg></body></html>
